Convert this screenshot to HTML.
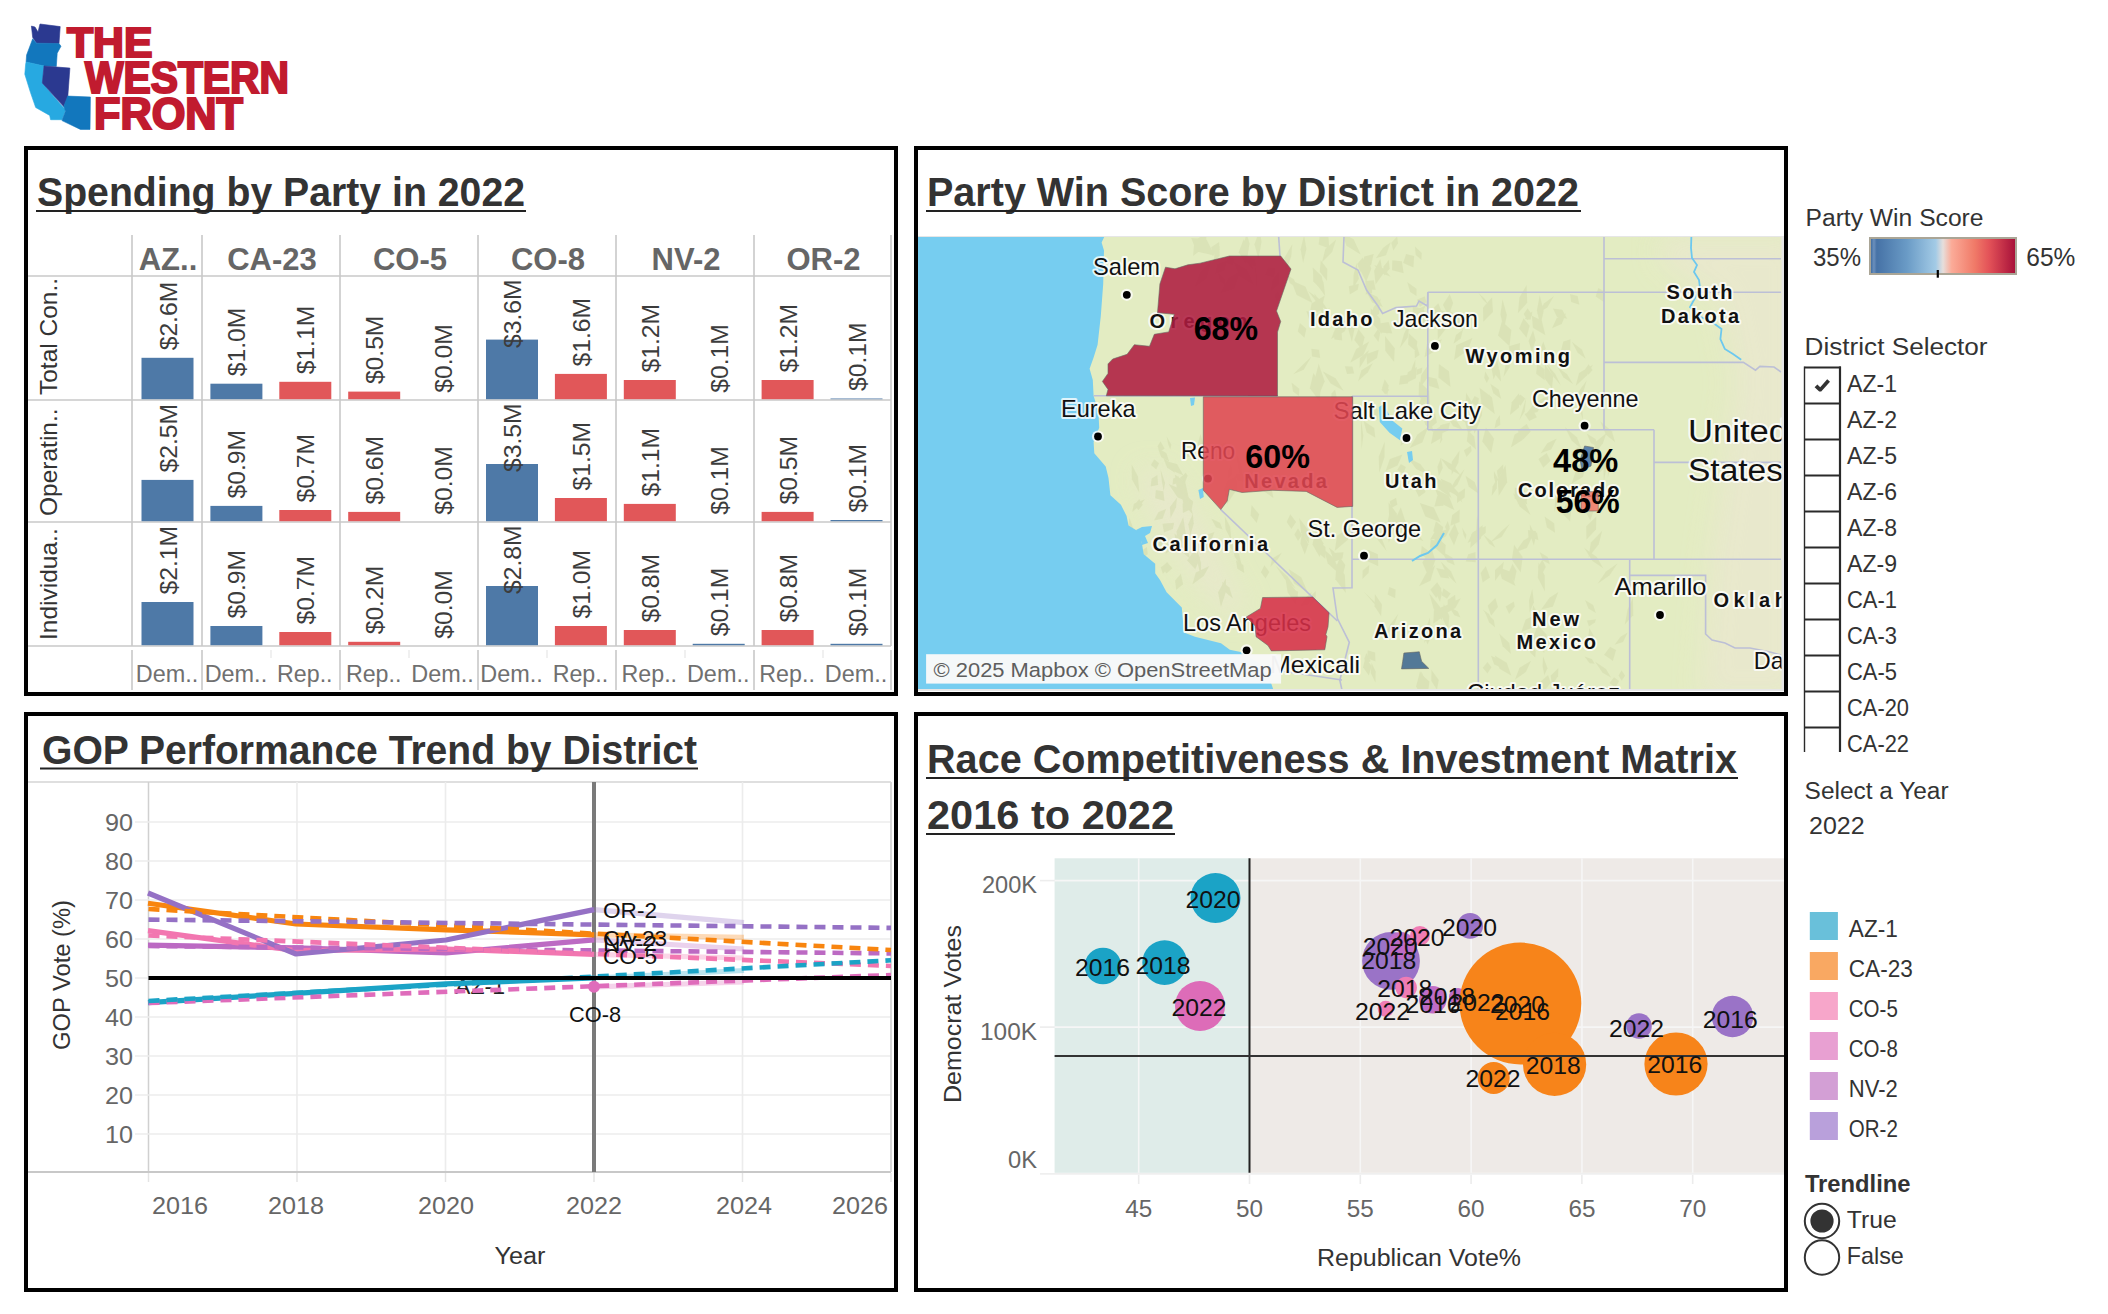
<!DOCTYPE html>
<html><head><meta charset="utf-8"><title>The Western Front Dashboard</title>
<style>
html,body{margin:0;padding:0;background:#fff;}
body{width:2108px;height:1314px;overflow:hidden;position:relative;font-family:"Liberation Sans", sans-serif;}
svg{position:absolute;left:0;top:0;}
text{font-family:"Liberation Sans", sans-serif;}
</style></head><body>
<svg width="2108" height="1314" viewBox="0 0 2108 1314">
<rect x="0" y="0" width="2108" height="1314" fill="#fff"/>
<polygon points="31.4,26.1 35.0,27.0 38.0,32.0 40.0,24.0 60.2,26.6 59.0,43.6 36.6,43.2 32.7,37.5" fill="#2b3990" stroke="#2b3990" stroke-width="0.6"/>
<polygon points="32.7,38.8 36.6,43.2 59.0,43.6 61.0,46.2 57.2,53.2 56.3,66.4 44.0,66.0 26.1,62.0 26.6,55.0" fill="#1277bd" stroke="#1277bd" stroke-width="0.6"/>
<polygon points="26.1,62.0 44.0,66.0 42.3,83.0 65.5,110.0 62.0,119.7 50.6,119.7 49.7,115.4 35.7,107.5 30.5,92.6 24.8,74.2 25.7,63.7" fill="#27a9e1" stroke="#27a9e1" stroke-width="0.6"/>
<polygon points="44.0,66.0 69.9,68.1 67.7,97.9 63.7,106.6 42.3,83.0" fill="#2b3990" stroke="#2b3990" stroke-width="0.6"/>
<polygon points="67.7,96.1 90.4,97.0 90.0,129.4 80.4,129.4 62.0,120.6 65.5,111.0 63.7,106.6" fill="#1277bd" stroke="#1277bd" stroke-width="0.6"/>
<text x="67.0" y="57.0" font-size="42" fill="#c11b2f" font-weight="bold" textLength="85.5" lengthAdjust="spacingAndGlyphs" stroke="#c11b2f" stroke-width="2.2" stroke-linejoin="miter">THE</text>
<text x="85.0" y="93.0" font-size="44" fill="#c11b2f" font-weight="bold" textLength="204.0" lengthAdjust="spacingAndGlyphs" stroke="#c11b2f" stroke-width="2.2" stroke-linejoin="miter">WESTERN</text>
<text x="94.0" y="128.6" font-size="44" fill="#c11b2f" font-weight="bold" textLength="149.0" lengthAdjust="spacingAndGlyphs" stroke="#c11b2f" stroke-width="2.2" stroke-linejoin="miter">FRONT</text>
<text x="37.0" y="206.0" font-size="41" fill="#333" font-weight="bold" textLength="488.0" lengthAdjust="spacingAndGlyphs">Spending by Party in 2022</text>
<rect x="36.0" y="210.0" width="490.0" height="2.0" fill="#222" />
<line x1="132" y1="235" x2="132" y2="646" stroke="#c8c8c8" stroke-width="1.6" />
<line x1="202" y1="235" x2="202" y2="646" stroke="#c8c8c8" stroke-width="1.6" />
<line x1="340" y1="235" x2="340" y2="646" stroke="#c8c8c8" stroke-width="1.6" />
<line x1="478" y1="235" x2="478" y2="646" stroke="#c8c8c8" stroke-width="1.6" />
<line x1="616" y1="235" x2="616" y2="646" stroke="#c8c8c8" stroke-width="1.6" />
<line x1="754" y1="235" x2="754" y2="646" stroke="#c8c8c8" stroke-width="1.6" />
<line x1="891" y1="235" x2="891" y2="646" stroke="#c8c8c8" stroke-width="1.6" />
<line x1="132" y1="650" x2="132" y2="690" stroke="#c8c8c8" stroke-width="1.6" />
<line x1="202" y1="650" x2="202" y2="690" stroke="#c8c8c8" stroke-width="1.6" />
<line x1="340" y1="650" x2="340" y2="690" stroke="#c8c8c8" stroke-width="1.6" />
<line x1="478" y1="650" x2="478" y2="690" stroke="#c8c8c8" stroke-width="1.6" />
<line x1="616" y1="650" x2="616" y2="690" stroke="#c8c8c8" stroke-width="1.6" />
<line x1="754" y1="650" x2="754" y2="690" stroke="#c8c8c8" stroke-width="1.6" />
<line x1="891" y1="650" x2="891" y2="690" stroke="#c8c8c8" stroke-width="1.6" />
<line x1="271" y1="650" x2="271" y2="658" stroke="#e6e6e6" stroke-width="1.2" />
<line x1="409" y1="650" x2="409" y2="658" stroke="#e6e6e6" stroke-width="1.2" />
<line x1="547" y1="650" x2="547" y2="658" stroke="#e6e6e6" stroke-width="1.2" />
<line x1="685" y1="650" x2="685" y2="658" stroke="#e6e6e6" stroke-width="1.2" />
<line x1="823" y1="650" x2="823" y2="658" stroke="#e6e6e6" stroke-width="1.2" />
<line x1="28" y1="276" x2="891" y2="276" stroke="#c8c8c8" stroke-width="1.6" />
<line x1="28" y1="400" x2="891" y2="400" stroke="#c8c8c8" stroke-width="1.6" />
<line x1="28" y1="522" x2="891" y2="522" stroke="#c8c8c8" stroke-width="1.6" />
<line x1="28" y1="646" x2="891" y2="646" stroke="#c8c8c8" stroke-width="1.6" />
<text x="168.0" y="270.0" font-size="31" fill="#666" font-weight="bold" text-anchor="middle">AZ..</text>
<text x="272.0" y="270.0" font-size="31" fill="#666" font-weight="bold" text-anchor="middle">CA-23</text>
<text x="410.0" y="270.0" font-size="31" fill="#666" font-weight="bold" text-anchor="middle">CO-5</text>
<text x="548.0" y="270.0" font-size="31" fill="#666" font-weight="bold" text-anchor="middle">CO-8</text>
<text x="686.0" y="270.0" font-size="31" fill="#666" font-weight="bold" text-anchor="middle">NV-2</text>
<text x="823.5" y="270.0" font-size="31" fill="#666" font-weight="bold" text-anchor="middle">OR-2</text>
<text transform="translate(56.5,395.0) rotate(-90)" x="0" y="0" font-size="24.5" fill="#333" textLength="117.0" lengthAdjust="spacingAndGlyphs">Total Con..</text>
<text transform="translate(56.5,516.0) rotate(-90)" x="0" y="0" font-size="24.5" fill="#333">Operatin..</text>
<text transform="translate(56.5,640.0) rotate(-90)" x="0" y="0" font-size="24.5" fill="#333">Individua..</text>
<rect x="141.5" y="357.8" width="52.0" height="41.4" fill="#4e79a7" />
<text transform="translate(176.5,350.3) rotate(-90)" x="0" y="0" font-size="24" fill="#3c3c3c" textLength="68.5" lengthAdjust="spacingAndGlyphs">$2.6M</text>
<rect x="210.4" y="383.7" width="52.0" height="15.5" fill="#4e79a7" />
<text transform="translate(245.4,376.2) rotate(-90)" x="0" y="0" font-size="24" fill="#3c3c3c" textLength="68.5" lengthAdjust="spacingAndGlyphs">$1.0M</text>
<rect x="279.3" y="381.8" width="52.0" height="17.4" fill="#e15759" />
<text transform="translate(314.3,374.3) rotate(-90)" x="0" y="0" font-size="24" fill="#3c3c3c" textLength="68.5" lengthAdjust="spacingAndGlyphs">$1.1M</text>
<rect x="348.2" y="391.6" width="52.0" height="7.6" fill="#e15759" />
<text transform="translate(383.2,384.1) rotate(-90)" x="0" y="0" font-size="24" fill="#3c3c3c" textLength="68.5" lengthAdjust="spacingAndGlyphs">$0.5M</text>
<text transform="translate(452.1,392.7) rotate(-90)" x="0" y="0" font-size="24" fill="#3c3c3c" textLength="68.5" lengthAdjust="spacingAndGlyphs">$0.0M</text>
<rect x="486.0" y="339.6" width="52.0" height="59.6" fill="#4e79a7" />
<text transform="translate(521.0,348.0) rotate(-90)" x="0" y="0" font-size="24" fill="#3c3c3c" textLength="68.5" lengthAdjust="spacingAndGlyphs">$3.6M</text>
<rect x="554.9" y="373.9" width="52.0" height="25.3" fill="#e15759" />
<text transform="translate(589.9,366.4) rotate(-90)" x="0" y="0" font-size="24" fill="#3c3c3c" textLength="68.5" lengthAdjust="spacingAndGlyphs">$1.6M</text>
<rect x="623.8" y="380.0" width="52.0" height="19.2" fill="#e15759" />
<text transform="translate(658.8,372.5) rotate(-90)" x="0" y="0" font-size="24" fill="#3c3c3c" textLength="68.5" lengthAdjust="spacingAndGlyphs">$1.2M</text>
<text transform="translate(727.7,392.7) rotate(-90)" x="0" y="0" font-size="24" fill="#3c3c3c" textLength="68.5" lengthAdjust="spacingAndGlyphs">$0.1M</text>
<rect x="761.6" y="380.0" width="52.0" height="19.2" fill="#e15759" />
<text transform="translate(796.6,372.5) rotate(-90)" x="0" y="0" font-size="24" fill="#3c3c3c" textLength="68.5" lengthAdjust="spacingAndGlyphs">$1.2M</text>
<rect x="830.5" y="398.5" width="52.0" height="0.7" fill="#4e79a7" />
<text transform="translate(865.5,391.0) rotate(-90)" x="0" y="0" font-size="24" fill="#3c3c3c" textLength="68.5" lengthAdjust="spacingAndGlyphs">$0.1M</text>
<rect x="141.5" y="479.9" width="52.0" height="41.3" fill="#4e79a7" />
<text transform="translate(176.5,472.4) rotate(-90)" x="0" y="0" font-size="24" fill="#3c3c3c" textLength="68.5" lengthAdjust="spacingAndGlyphs">$2.5M</text>
<rect x="210.4" y="505.9" width="52.0" height="15.3" fill="#4e79a7" />
<text transform="translate(245.4,498.4) rotate(-90)" x="0" y="0" font-size="24" fill="#3c3c3c" textLength="68.5" lengthAdjust="spacingAndGlyphs">$0.9M</text>
<rect x="279.3" y="510.0" width="52.0" height="11.2" fill="#e15759" />
<text transform="translate(314.3,502.5) rotate(-90)" x="0" y="0" font-size="24" fill="#3c3c3c" textLength="68.5" lengthAdjust="spacingAndGlyphs">$0.7M</text>
<rect x="348.2" y="511.9" width="52.0" height="9.3" fill="#e15759" />
<text transform="translate(383.2,504.4) rotate(-90)" x="0" y="0" font-size="24" fill="#3c3c3c" textLength="68.5" lengthAdjust="spacingAndGlyphs">$0.6M</text>
<text transform="translate(452.1,514.7) rotate(-90)" x="0" y="0" font-size="24" fill="#3c3c3c" textLength="68.5" lengthAdjust="spacingAndGlyphs">$0.0M</text>
<rect x="486.0" y="464.0" width="52.0" height="57.2" fill="#4e79a7" />
<text transform="translate(521.0,472.0) rotate(-90)" x="0" y="0" font-size="24" fill="#3c3c3c" textLength="68.5" lengthAdjust="spacingAndGlyphs">$3.5M</text>
<rect x="554.9" y="498.0" width="52.0" height="23.2" fill="#e15759" />
<text transform="translate(589.9,490.5) rotate(-90)" x="0" y="0" font-size="24" fill="#3c3c3c" textLength="68.5" lengthAdjust="spacingAndGlyphs">$1.5M</text>
<rect x="623.8" y="503.9" width="52.0" height="17.3" fill="#e15759" />
<text transform="translate(658.8,496.4) rotate(-90)" x="0" y="0" font-size="24" fill="#3c3c3c" textLength="68.5" lengthAdjust="spacingAndGlyphs">$1.1M</text>
<text transform="translate(727.7,514.7) rotate(-90)" x="0" y="0" font-size="24" fill="#3c3c3c" textLength="68.5" lengthAdjust="spacingAndGlyphs">$0.1M</text>
<rect x="761.6" y="511.9" width="52.0" height="9.3" fill="#e15759" />
<text transform="translate(796.6,504.4) rotate(-90)" x="0" y="0" font-size="24" fill="#3c3c3c" textLength="68.5" lengthAdjust="spacingAndGlyphs">$0.5M</text>
<rect x="830.5" y="520.0" width="52.0" height="1.2" fill="#4e79a7" />
<text transform="translate(865.5,512.5) rotate(-90)" x="0" y="0" font-size="24" fill="#3c3c3c" textLength="68.5" lengthAdjust="spacingAndGlyphs">$0.1M</text>
<rect x="141.5" y="602.0" width="52.0" height="43.2" fill="#4e79a7" />
<text transform="translate(176.5,594.5) rotate(-90)" x="0" y="0" font-size="24" fill="#3c3c3c" textLength="68.5" lengthAdjust="spacingAndGlyphs">$2.1M</text>
<rect x="210.4" y="626.0" width="52.0" height="19.2" fill="#4e79a7" />
<text transform="translate(245.4,618.5) rotate(-90)" x="0" y="0" font-size="24" fill="#3c3c3c" textLength="68.5" lengthAdjust="spacingAndGlyphs">$0.9M</text>
<rect x="279.3" y="632.0" width="52.0" height="13.2" fill="#e15759" />
<text transform="translate(314.3,624.5) rotate(-90)" x="0" y="0" font-size="24" fill="#3c3c3c" textLength="68.5" lengthAdjust="spacingAndGlyphs">$0.7M</text>
<rect x="348.2" y="641.8" width="52.0" height="3.4" fill="#e15759" />
<text transform="translate(383.2,634.3) rotate(-90)" x="0" y="0" font-size="24" fill="#3c3c3c" textLength="68.5" lengthAdjust="spacingAndGlyphs">$0.2M</text>
<text transform="translate(452.1,638.7) rotate(-90)" x="0" y="0" font-size="24" fill="#3c3c3c" textLength="68.5" lengthAdjust="spacingAndGlyphs">$0.0M</text>
<rect x="486.0" y="586.0" width="52.0" height="59.2" fill="#4e79a7" />
<text transform="translate(521.0,594.0) rotate(-90)" x="0" y="0" font-size="24" fill="#3c3c3c" textLength="68.5" lengthAdjust="spacingAndGlyphs">$2.8M</text>
<rect x="554.9" y="626.0" width="52.0" height="19.2" fill="#e15759" />
<text transform="translate(589.9,618.5) rotate(-90)" x="0" y="0" font-size="24" fill="#3c3c3c" textLength="68.5" lengthAdjust="spacingAndGlyphs">$1.0M</text>
<rect x="623.8" y="630.0" width="52.0" height="15.2" fill="#e15759" />
<text transform="translate(658.8,622.5) rotate(-90)" x="0" y="0" font-size="24" fill="#3c3c3c" textLength="68.5" lengthAdjust="spacingAndGlyphs">$0.8M</text>
<rect x="692.7" y="643.8" width="52.0" height="1.4" fill="#4e79a7" />
<text transform="translate(727.7,636.3) rotate(-90)" x="0" y="0" font-size="24" fill="#3c3c3c" textLength="68.5" lengthAdjust="spacingAndGlyphs">$0.1M</text>
<rect x="761.6" y="630.0" width="52.0" height="15.2" fill="#e15759" />
<text transform="translate(796.6,622.5) rotate(-90)" x="0" y="0" font-size="24" fill="#3c3c3c" textLength="68.5" lengthAdjust="spacingAndGlyphs">$0.8M</text>
<rect x="830.5" y="643.8" width="52.0" height="1.4" fill="#4e79a7" />
<text transform="translate(865.5,636.3) rotate(-90)" x="0" y="0" font-size="24" fill="#3c3c3c" textLength="68.5" lengthAdjust="spacingAndGlyphs">$0.1M</text>
<text x="167.0" y="682.0" font-size="23" fill="#707070" text-anchor="middle" textLength="62.5" lengthAdjust="spacingAndGlyphs">Dem..</text>
<text x="235.9" y="682.0" font-size="23" fill="#707070" text-anchor="middle" textLength="62.5" lengthAdjust="spacingAndGlyphs">Dem..</text>
<text x="304.8" y="682.0" font-size="23" fill="#707070" text-anchor="middle" textLength="55.5" lengthAdjust="spacingAndGlyphs">Rep..</text>
<text x="373.7" y="682.0" font-size="23" fill="#707070" text-anchor="middle" textLength="55.5" lengthAdjust="spacingAndGlyphs">Rep..</text>
<text x="442.6" y="682.0" font-size="23" fill="#707070" text-anchor="middle" textLength="62.5" lengthAdjust="spacingAndGlyphs">Dem..</text>
<text x="511.5" y="682.0" font-size="23" fill="#707070" text-anchor="middle" textLength="62.5" lengthAdjust="spacingAndGlyphs">Dem..</text>
<text x="580.4" y="682.0" font-size="23" fill="#707070" text-anchor="middle" textLength="55.5" lengthAdjust="spacingAndGlyphs">Rep..</text>
<text x="649.3" y="682.0" font-size="23" fill="#707070" text-anchor="middle" textLength="55.5" lengthAdjust="spacingAndGlyphs">Rep..</text>
<text x="718.2" y="682.0" font-size="23" fill="#707070" text-anchor="middle" textLength="62.5" lengthAdjust="spacingAndGlyphs">Dem..</text>
<text x="787.1" y="682.0" font-size="23" fill="#707070" text-anchor="middle" textLength="55.5" lengthAdjust="spacingAndGlyphs">Rep..</text>
<text x="856.0" y="682.0" font-size="23" fill="#707070" text-anchor="middle" textLength="62.5" lengthAdjust="spacingAndGlyphs">Dem..</text>
<text x="927.0" y="206.0" font-size="41" fill="#333" font-weight="bold" textLength="652.0" lengthAdjust="spacingAndGlyphs">Party Win Score by District in 2022</text>
<rect x="926.0" y="210.0" width="655.0" height="2.0" fill="#222" />
<defs><clipPath id="mapclip"><rect x="918" y="237" width="863.5" height="452"/></clipPath></defs>
<rect x="918.0" y="236.0" width="866.0" height="455.0" fill="#e6e6e6" />
<g clip-path="url(#mapclip)">
<rect x="918.0" y="237.0" width="863.5" height="452.0" fill="#e3ecc2" />
<defs><filter id="blur15" x="-50%" y="-50%" width="200%" height="200%"><feGaussianBlur stdDeviation="14"/></filter></defs>
<polygon points="1660.0,237.0 1800.0,237.0 1800.0,700.0 1700.0,700.0 1710.0,560.0 1735.0,380.0 1720.0,300.0 1660.0,262.0" fill="#e9e8ce" opacity="0.9" filter="url(#blur15)"/>
<polygon points="1135.0,470.0 1165.0,470.0 1200.0,520.0 1235.0,590.0 1250.0,610.0 1225.0,615.0 1190.0,570.0 1160.0,530.0" fill="#e9e7cf" opacity="0.8" filter="url(#blur15)"/>
<g fill="#d2daac" opacity="0.5">
<polygon points="1350.2,311.6 1347.7,327.0 1351.9,341.9 1354.9,327.1"/>
<polygon points="1306.4,311.0 1310.2,323.1 1323.5,327.6 1318.5,314.5"/>
<polygon points="1311.3,356.7 1303.5,363.9 1293.2,374.3 1303.8,369.8"/>
<polygon points="1378.1,328.7 1373.6,335.5 1378.4,342.1 1380.3,332.7"/>
<polygon points="1314.7,272.3 1313.9,278.2 1316.6,282.7 1319.5,278.9"/>
<polygon points="1358.5,328.9 1354.2,339.9 1361.6,349.6 1364.7,337.2"/>
<polygon points="1419.1,381.2 1418.6,396.2 1430.3,407.4 1429.1,390.8"/>
<polygon points="1336.1,239.5 1325.3,249.0 1322.0,262.3 1332.1,252.1"/>
<polygon points="1422.4,367.4 1416.9,369.6 1416.2,375.3 1421.6,372.9"/>
<polygon points="1424.8,296.3 1416.9,299.7 1419.9,306.9 1426.5,302.1"/>
<polygon points="1291.0,280.2 1296.6,295.0 1312.5,302.9 1305.4,286.6"/>
<polygon points="1304.1,235.5 1300.6,249.2 1303.1,263.0 1306.4,249.1"/>
<polygon points="1311.3,348.8 1312.0,356.6 1320.2,358.1 1319.1,349.8"/>
<polygon points="1312.3,267.5 1316.3,284.0 1325.2,296.1 1323.5,282.0"/>
<polygon points="1308.2,291.0 1318.2,304.4 1328.7,311.2 1321.7,300.8"/>
<polygon points="1313.1,267.8 1313.2,281.4 1324.5,292.3 1321.8,276.1"/>
<polygon points="1299.9,323.0 1297.7,331.6 1304.4,337.7 1306.4,328.7"/>
<polygon points="1412.7,305.9 1413.0,318.2 1426.3,324.0 1423.9,309.6"/>
<polygon points="1415.4,359.5 1412.7,365.8 1409.9,374.0 1415.2,370.4"/>
<polygon points="1313.4,372.9 1309.8,388.2 1319.6,401.6 1320.9,384.0"/>
<polygon points="1291.5,382.6 1293.0,391.6 1298.9,395.9 1299.4,388.8"/>
<polygon points="1365.3,280.9 1365.7,289.1 1375.7,290.1 1373.8,280.2"/>
<polygon points="1372.9,363.0 1361.3,370.2 1358.1,381.3 1367.9,372.3"/>
<polygon points="1286.2,273.9 1289.7,283.1 1298.3,289.6 1294.0,279.6"/>
<polygon points="1373.7,254.1 1364.3,256.4 1360.8,266.7 1371.1,265.3"/>
<polygon points="1378.0,326.7 1384.5,332.3 1388.6,334.5 1384.6,331.3"/>
<polygon points="1384.1,384.0 1381.5,389.7 1385.2,394.4 1389.2,390.1"/>
<polygon points="1335.1,389.4 1331.5,393.4 1331.0,400.4 1337.0,398.8"/>
<polygon points="1385.0,336.1 1385.3,350.9 1394.1,362.0 1394.8,348.3"/>
<polygon points="1416.9,367.0 1407.7,372.2 1406.3,383.0 1415.9,378.3"/>
<polygon points="1366.0,291.5 1372.2,302.5 1382.8,307.0 1377.4,296.8"/>
<polygon points="1428.6,364.2 1421.2,375.1 1419.6,388.6 1427.4,378.1"/>
<polygon points="1344.8,366.3 1347.0,373.9 1354.2,373.5 1352.5,366.6"/>
<polygon points="1356.6,263.1 1353.5,275.1 1353.2,288.3 1358.9,278.7"/>
<polygon points="1319.8,234.9 1318.7,244.4 1329.3,248.6 1328.4,237.1"/>
<polygon points="1408.6,333.1 1408.1,344.4 1416.0,351.4 1417.4,341.2"/>
<polygon points="1324.8,295.5 1311.5,303.5 1308.8,318.1 1321.4,309.4"/>
<polygon points="1372.0,283.5 1367.4,287.0 1365.4,294.6 1372.1,293.2"/>
<polygon points="1384.7,379.3 1382.0,387.7 1387.3,395.2 1388.7,385.5"/>
<polygon points="1314.2,293.2 1317.3,305.7 1323.6,315.1 1322.6,304.6"/>
<polygon points="1425.9,305.3 1418.1,308.9 1419.3,314.9 1424.3,308.6"/>
<polygon points="1378.9,323.5 1380.4,332.6 1392.4,333.4 1388.7,322.1"/>
<polygon points="1342.1,233.2 1346.5,245.8 1360.7,254.5 1353.6,239.2"/>
<polygon points="1380.5,298.6 1373.6,307.1 1369.4,319.8 1379.0,314.1"/>
<polygon points="1374.1,265.0 1380.7,273.1 1390.7,276.8 1384.0,268.5"/>
<polygon points="1388.7,260.1 1383.3,266.8 1384.2,275.4 1389.7,268.8"/>
<polygon points="1378.7,349.8 1366.4,354.0 1367.2,364.6 1377.0,357.9"/>
<polygon points="1416.9,345.6 1414.6,351.4 1414.9,358.3 1419.7,355.0"/>
<polygon points="1350.6,317.2 1336.8,324.7 1331.1,339.1 1344.7,331.4"/>
<polygon points="1380.3,259.0 1374.1,270.8 1375.6,284.5 1383.1,274.0"/>
<polygon points="1318.7,363.7 1314.6,379.5 1318.9,395.3 1324.7,381.2"/>
<polygon points="1322.7,371.2 1330.6,383.5 1343.8,390.9 1335.6,378.2"/>
<polygon points="1369.1,349.9 1359.8,358.1 1359.5,368.2 1366.2,357.4"/>
<polygon points="1392.3,260.3 1392.0,270.2 1403.7,273.3 1401.9,261.3"/>
<polygon points="1369.2,341.6 1356.1,349.0 1350.2,362.7 1363.3,355.3"/>
<polygon points="1414.9,246.6 1415.8,255.1 1421.4,260.0 1421.8,252.9"/>
<polygon points="1370.6,307.9 1371.6,322.7 1381.9,334.1 1380.1,318.6"/>
<polygon points="1409.2,374.4 1400.4,375.8 1399.0,384.8 1408.0,383.5"/>
<polygon points="1368.6,260.3 1360.5,270.7 1366.1,282.0 1371.3,268.8"/>
<polygon points="1421.3,310.6 1415.6,319.8 1420.5,329.4 1426.1,320.1"/>
<polygon points="1390.7,242.2 1383.2,247.7 1375.8,258.2 1386.0,255.3"/>
<polygon points="1329.4,307.7 1325.5,311.6 1323.3,319.0 1329.6,317.5"/>
<polygon points="1358.9,283.7 1348.7,286.3 1349.8,294.6 1357.8,289.8"/>
<polygon points="1397.1,236.6 1391.3,242.8 1393.3,250.4 1398.0,243.2"/>
<polygon points="1333.8,331.6 1334.4,339.4 1342.2,340.6 1341.6,332.8"/>
<polygon points="1320.7,260.3 1319.7,271.7 1327.0,281.0 1327.4,269.0"/>
<polygon points="1362.7,257.6 1357.2,264.0 1360.2,271.9 1365.9,265.7"/>
<polygon points="1410.0,321.3 1404.0,333.8 1399.8,348.3 1407.7,337.7"/>
<polygon points="1407.2,281.9 1410.1,292.1 1416.5,296.0 1416.6,288.8"/>
<polygon points="1406.1,254.1 1403.1,263.1 1413.5,267.4 1414.1,256.0"/>
<polygon points="1576.5,393.5 1578.5,407.3 1583.1,420.0 1582.2,407.2"/>
<polygon points="1441.9,339.3 1426.8,344.3 1424.5,357.2 1437.2,349.9"/>
<polygon points="1514.8,487.4 1514.6,498.7 1527.2,504.4 1524.9,490.5"/>
<polygon points="1449.7,293.9 1442.9,304.7 1448.5,316.0 1453.2,303.0"/>
<polygon points="1472.4,338.1 1456.2,345.2 1454.1,360.0 1467.8,350.4"/>
<polygon points="1437.4,537.8 1436.3,549.0 1444.9,556.5 1445.8,545.1"/>
<polygon points="1526.1,397.8 1522.9,408.4 1519.4,420.1 1524.7,411.6"/>
<polygon points="1455.0,404.6 1457.7,417.4 1470.3,426.0 1465.6,411.2"/>
<polygon points="1526.6,284.9 1519.4,297.6 1517.9,313.3 1527.2,302.8"/>
<polygon points="1551.6,394.1 1542.3,399.3 1535.0,410.3 1546.1,406.9"/>
<polygon points="1482.8,524.9 1471.4,534.1 1470.2,548.1 1481.0,538.4"/>
<polygon points="1596.4,516.5 1586.2,526.2 1586.4,539.8 1596.0,529.6"/>
<polygon points="1552.9,308.6 1557.0,316.9 1567.2,318.8 1562.3,309.7"/>
<polygon points="1546.7,453.0 1538.4,459.1 1543.3,467.7 1550.6,460.7"/>
<polygon points="1556.8,438.6 1547.2,443.3 1540.7,453.3 1551.2,449.4"/>
<polygon points="1558.4,481.2 1555.6,496.6 1554.1,512.5 1558.3,498.6"/>
<polygon points="1474.6,396.1 1471.1,402.2 1477.8,406.7 1478.9,398.2"/>
<polygon points="1482.9,527.1 1472.7,532.2 1467.5,542.9 1478.1,538.2"/>
<polygon points="1610.6,450.2 1608.4,463.8 1607.7,477.9 1611.4,465.9"/>
<polygon points="1433.9,536.2 1435.0,543.9 1442.3,546.8 1441.2,539.1"/>
<polygon points="1539.7,295.1 1536.9,310.6 1540.4,325.9 1543.7,311.0"/>
<polygon points="1490.4,359.8 1493.3,372.6 1501.2,381.7 1499.6,370.1"/>
<polygon points="1478.4,292.8 1483.1,300.1 1488.2,304.7 1485.0,298.9"/>
<polygon points="1509.8,523.7 1501.3,531.3 1490.6,542.0 1501.7,537.1"/>
<polygon points="1450.1,528.1 1438.9,532.2 1436.4,541.9 1446.0,536.2"/>
<polygon points="1533.4,534.3 1523.4,540.6 1515.0,552.5 1526.9,548.0"/>
<polygon points="1531.9,315.7 1532.8,327.7 1545.4,335.3 1541.8,320.6"/>
<polygon points="1523.6,318.2 1519.0,328.6 1526.5,337.7 1529.7,325.8"/>
<polygon points="1544.8,397.0 1534.7,403.1 1524.8,415.4 1537.6,411.9"/>
<polygon points="1564.8,352.5 1557.9,355.8 1559.5,363.8 1567.2,361.3"/>
<polygon points="1495.8,354.5 1491.2,366.5 1493.5,379.4 1498.9,368.1"/>
<polygon points="1570.5,339.3 1563.3,341.6 1560.8,351.3 1570.2,351.3"/>
<polygon points="1438.3,303.2 1431.1,310.6 1435.9,319.0 1440.8,309.3"/>
<polygon points="1527.6,308.3 1523.6,314.1 1527.4,320.2 1532.2,315.1"/>
<polygon points="1499.8,415.0 1496.1,420.6 1494.5,428.6 1500.3,425.1"/>
<polygon points="1449.0,314.0 1437.5,324.9 1437.8,339.5 1447.5,326.8"/>
<polygon points="1509.2,349.8 1505.9,362.7 1503.5,377.0 1509.8,367.0"/>
<polygon points="1485.9,427.4 1482.2,441.5 1491.2,453.3 1494.1,438.5"/>
<polygon points="1447.7,521.1 1445.0,526.8 1447.2,532.8 1449.8,526.9"/>
<polygon points="1545.9,362.9 1552.4,375.5 1560.9,385.5 1555.3,373.9"/>
<polygon points="1438.9,363.9 1438.3,377.6 1450.5,387.1 1449.0,371.2"/>
<polygon points="1497.1,478.8 1492.5,486.6 1491.7,496.0 1496.8,488.5"/>
<polygon points="1602.2,530.7 1590.8,542.4 1588.5,557.5 1598.7,544.6"/>
<polygon points="1479.5,387.7 1481.5,403.7 1494.8,414.1 1492.0,397.3"/>
<polygon points="1490.4,383.7 1493.3,393.3 1501.2,398.9 1498.7,389.6"/>
<polygon points="1564.8,427.0 1571.7,440.8 1582.1,449.5 1576.9,437.2"/>
<polygon points="1588.6,364.3 1584.9,369.6 1588.5,374.8 1592.6,370.0"/>
<polygon points="1604.1,453.7 1603.4,467.5 1603.8,481.4 1606.2,469.3"/>
<polygon points="1435.6,307.7 1442.1,320.7 1454.7,325.6 1449.0,313.4"/>
<polygon points="1449.3,482.4 1455.0,494.3 1462.5,502.8 1458.4,492.6"/>
<polygon points="1530.4,491.0 1522.5,495.3 1517.4,504.3 1526.3,501.0"/>
<polygon points="1527.0,427.3 1514.6,434.4 1510.8,447.5 1522.6,439.9"/>
<polygon points="1586.0,459.3 1576.5,469.0 1571.4,484.1 1583.2,476.7"/>
<polygon points="1607.3,455.1 1597.6,462.5 1597.5,474.3 1606.7,466.4"/>
<polygon points="1501.9,321.2 1498.0,335.5 1509.5,346.3 1511.4,330.0"/>
<polygon points="1460.5,402.3 1461.8,412.1 1473.0,412.9 1470.6,402.0"/>
<polygon points="1440.4,457.9 1448.6,468.8 1460.9,475.6 1452.4,464.4"/>
<polygon points="1531.9,531.6 1531.5,537.4 1538.4,540.3 1537.1,532.8"/>
<polygon points="1465.5,475.8 1468.7,486.8 1479.2,494.3 1474.7,482.0"/>
<polygon points="1465.1,488.3 1457.2,493.7 1457.0,503.1 1464.7,497.6"/>
<polygon points="1477.1,515.1 1476.3,530.1 1476.7,545.2 1480.3,533.0"/>
<polygon points="1519.4,348.6 1511.0,350.9 1514.3,358.5 1522.0,355.5"/>
<polygon points="1526.7,423.9 1517.6,430.4 1523.3,439.5 1530.8,431.4"/>
<polygon points="1434.8,411.6 1427.7,418.7 1429.2,428.9 1436.9,422.5"/>
<polygon points="1463.1,329.5 1455.9,334.9 1453.5,343.7 1460.8,338.4"/>
<polygon points="1539.5,552.1 1543.1,560.8 1549.8,564.2 1547.8,557.1"/>
<polygon points="1419.8,502.9 1425.3,516.6 1440.7,522.4 1433.8,507.4"/>
<polygon points="1566.0,313.2 1556.7,318.1 1552.0,328.3 1561.8,323.9"/>
<polygon points="1592.9,364.8 1579.0,373.1 1575.7,386.1 1587.2,375.3"/>
<polygon points="1571.8,341.7 1577.6,352.8 1585.7,358.7 1581.9,349.6"/>
<polygon points="1485.3,371.6 1484.1,377.8 1486.8,383.1 1489.2,378.2"/>
<polygon points="1493.9,471.0 1494.0,477.6 1495.6,483.2 1498.3,479.4"/>
<polygon points="1580.9,463.4 1574.4,467.2 1577.8,473.2 1582.7,467.8"/>
<polygon points="1533.8,411.8 1524.5,413.7 1529.2,421.0 1536.9,417.3"/>
<polygon points="1537.1,363.7 1536.1,373.7 1544.7,380.2 1544.7,369.2"/>
<polygon points="1503.2,464.3 1496.9,470.7 1497.9,479.0 1503.2,471.6"/>
<polygon points="1606.5,432.9 1594.8,442.5 1593.7,455.4 1603.0,443.3"/>
<polygon points="1447.8,310.1 1450.9,322.9 1462.9,330.0 1459.2,316.5"/>
<polygon points="1576.8,447.4 1576.1,453.9 1584.5,456.7 1582.9,448.0"/>
<polygon points="1502.5,299.2 1500.4,314.4 1504.0,329.4 1506.9,315.0"/>
<polygon points="1565.9,503.6 1561.9,513.3 1570.1,521.6 1571.3,508.9"/>
<polygon points="1505.5,465.0 1497.7,479.4 1498.7,495.9 1507.2,482.2"/>
<polygon points="1427.2,376.5 1429.3,386.0 1439.5,389.0 1436.6,378.7"/>
<polygon points="1512.8,493.1 1519.8,506.8 1530.6,514.9 1525.1,502.8"/>
<polygon points="1586.7,433.6 1590.8,442.9 1598.4,447.0 1595.6,438.9"/>
<polygon points="1600.2,421.2 1605.9,434.8 1615.1,442.3 1612.0,431.3"/>
<polygon points="1543.3,341.5 1541.1,347.2 1542.5,353.3 1545.9,348.8"/>
<polygon points="1483.2,534.6 1489.3,543.8 1495.4,547.8 1492.1,541.4"/>
<polygon points="1454.8,523.6 1448.8,534.4 1454.0,545.5 1458.6,533.3"/>
<polygon points="1584.1,547.7 1592.4,560.9 1603.2,568.2 1596.9,556.9"/>
<polygon points="1485.8,526.1 1476.3,530.6 1478.1,539.3 1485.7,533.0"/>
<polygon points="1532.5,311.5 1529.4,313.2 1524.8,318.9 1530.5,319.8"/>
<polygon points="1545.0,364.6 1544.3,377.9 1552.0,388.4 1553.3,375.7"/>
<polygon points="1570.0,293.9 1571.1,301.9 1579.4,304.8 1577.6,296.1"/>
<polygon points="1533.1,330.3 1528.5,340.9 1532.0,351.7 1535.6,340.2"/>
<polygon points="1554.0,296.0 1544.2,303.3 1537.0,314.0 1547.4,307.4"/>
<polygon points="1519.1,393.1 1511.7,402.2 1510.0,415.0 1519.0,407.4"/>
<polygon points="1514.1,544.7 1511.8,559.8 1520.7,572.4 1522.7,556.9"/>
<polygon points="1529.8,524.3 1530.3,535.7 1533.9,545.5 1535.9,536.5"/>
<polygon points="1492.1,297.3 1483.0,307.6 1483.3,321.7 1493.0,312.0"/>
<polygon points="1557.5,367.3 1563.3,377.3 1573.2,384.2 1567.0,373.9"/>
<polygon points="1520.3,394.6 1514.1,400.2 1520.6,405.7 1525.3,398.5"/>
<polygon points="1489.8,393.9 1486.1,398.4 1480.4,405.8 1486.9,404.0"/>
<polygon points="1544.6,516.5 1546.9,527.4 1555.0,532.7 1554.2,523.3"/>
<polygon points="1527.9,529.9 1528.5,537.9 1536.2,538.9 1535.8,531.1"/>
<polygon points="1598.3,288.0 1595.6,296.4 1604.1,302.3 1604.1,291.3"/>
<polygon points="1591.9,501.8 1585.0,510.8 1590.3,520.4 1594.5,508.7"/>
<polygon points="1441.1,526.7 1435.4,530.5 1430.1,539.5 1438.6,538.6"/>
<polygon points="1520.0,343.1 1508.7,346.3 1510.1,356.3 1519.6,351.3"/>
<polygon points="1586.7,380.5 1581.6,387.3 1575.0,397.2 1583.0,393.4"/>
<polygon points="1152.8,536.7 1152.4,545.4 1163.8,545.7 1161.8,534.6"/>
<polygon points="1236.2,475.9 1224.2,488.4 1227.0,504.3 1236.8,489.6"/>
<polygon points="1222.1,581.7 1224.3,591.3 1232.8,598.4 1229.4,587.6"/>
<polygon points="1231.0,464.6 1228.4,470.8 1227.9,478.2 1232.3,473.8"/>
<polygon points="1174.3,533.4 1177.3,548.2 1190.0,558.4 1185.8,542.4"/>
<polygon points="1253.9,541.2 1259.5,550.0 1265.6,552.3 1262.9,546.3"/>
<polygon points="1192.8,513.8 1188.2,524.3 1190.5,535.3 1193.8,523.5"/>
<polygon points="1167.4,563.0 1160.7,567.3 1162.9,574.0 1168.0,568.2"/>
<polygon points="1174.2,522.8 1162.4,523.7 1164.0,532.6 1172.9,528.9"/>
<polygon points="1194.0,550.9 1187.0,560.5 1195.3,569.3 1200.3,557.8"/>
<polygon points="1211.6,535.1 1203.7,541.2 1204.0,551.3 1212.0,545.3"/>
<polygon points="1209.3,566.0 1195.8,572.5 1192.3,584.5 1203.8,576.1"/>
<polygon points="1237.1,454.9 1237.9,466.9 1241.2,477.9 1242.0,467.5"/>
<polygon points="1236.0,560.2 1237.3,568.7 1244.2,573.0 1243.4,564.9"/>
<polygon points="1200.5,434.1 1197.2,445.4 1199.2,457.2 1204.7,448.2"/>
<polygon points="1154.2,459.2 1150.9,465.0 1156.2,469.4 1159.1,463.2"/>
<polygon points="1167.1,562.0 1161.5,567.5 1166.5,573.6 1172.4,568.3"/>
<polygon points="1235.7,473.9 1237.7,480.6 1246.0,482.2 1242.9,474.4"/>
<polygon points="1211.2,518.6 1215.9,527.2 1222.7,529.5 1220.0,522.8"/>
<polygon points="1157.4,474.9 1151.6,478.4 1150.6,486.6 1158.1,484.9"/>
<polygon points="1144.9,499.3 1133.8,503.7 1132.2,512.1 1140.6,505.0"/>
<polygon points="1196.1,546.1 1197.5,562.2 1200.9,577.5 1201.1,562.9"/>
<polygon points="1131.6,464.2 1131.8,479.2 1139.3,492.8 1138.0,476.6"/>
<polygon points="1191.5,447.3 1185.3,449.9 1187.3,457.2 1194.9,456.0"/>
<polygon points="1160.6,469.6 1161.8,480.9 1163.7,491.5 1165.1,482.7"/>
<polygon points="1168.6,484.1 1177.6,497.4 1193.3,503.8 1183.7,489.9"/>
<polygon points="1225.8,442.0 1217.5,446.7 1216.1,456.7 1225.0,452.5"/>
<polygon points="1251.5,505.1 1250.6,515.5 1256.7,523.0 1259.2,514.2"/>
<polygon points="1155.8,490.1 1155.1,498.2 1164.5,501.1 1163.4,491.2"/>
<polygon points="1166.1,509.1 1158.5,512.1 1153.9,520.6 1162.6,518.7"/>
<polygon points="1253.3,463.9 1247.8,472.1 1248.3,481.6 1253.0,472.5"/>
<polygon points="1166.6,436.2 1168.0,443.8 1170.3,449.7 1171.4,444.7"/>
<polygon points="1236.0,476.2 1227.3,481.3 1224.2,489.8 1232.1,483.9"/>
<polygon points="1231.5,541.9 1234.6,556.5 1242.9,569.6 1239.1,554.3"/>
<polygon points="1141.3,572.6 1133.9,581.4 1142.0,589.8 1146.7,578.3"/>
<polygon points="1185.7,472.7 1179.8,477.9 1184.6,483.5 1187.7,475.6"/>
<polygon points="1177.0,497.4 1169.9,507.1 1170.5,518.3 1176.1,507.2"/>
<polygon points="1228.6,540.7 1230.3,547.9 1234.5,552.5 1234.1,546.6"/>
<polygon points="1180.5,488.7 1183.2,503.1 1193.0,515.0 1189.4,499.7"/>
<polygon points="1160.5,441.2 1157.5,446.3 1160.0,451.8 1164.7,448.6"/>
<polygon points="1259.8,477.4 1263.0,490.8 1273.4,498.0 1271.3,485.7"/>
<polygon points="1225.8,578.5 1218.0,592.3 1220.9,607.2 1226.2,590.9"/>
<polygon points="1187.8,497.5 1186.6,504.1 1192.0,508.0 1193.2,501.5"/>
<polygon points="1163.3,458.0 1167.1,467.8 1175.0,472.8 1172.2,463.9"/>
<polygon points="1157.9,448.2 1161.2,457.3 1169.2,461.6 1166.4,453.0"/>
<polygon points="1224.8,516.3 1225.4,529.1 1231.5,540.8 1230.2,527.1"/>
<polygon points="1139.3,499.1 1134.7,504.4 1138.3,510.3 1142.8,504.8"/>
<polygon points="1178.7,476.3 1173.2,478.5 1172.5,484.8 1178.3,482.9"/>
<polygon points="1167.6,539.9 1165.6,546.4 1165.7,553.9 1170.5,550.1"/>
<polygon points="1183.2,517.0 1176.5,531.4 1178.3,547.4 1185.8,533.7"/>
<polygon points="1192.2,499.9 1182.5,503.4 1182.9,513.1 1191.9,508.8"/>
<polygon points="1254.7,440.2 1252.8,447.7 1260.0,452.0 1261.0,443.6"/>
<polygon points="1268.6,457.1 1262.4,463.2 1265.0,470.9 1269.6,463.1"/>
<polygon points="1129.4,517.7 1128.1,527.3 1130.9,536.3 1133.1,527.7"/>
<polygon points="1214.5,531.9 1201.9,536.2 1198.9,547.9 1210.5,542.6"/>
<polygon points="1180.9,573.7 1175.0,580.5 1176.2,589.9 1183.2,584.3"/>
<polygon points="1264.4,565.2 1260.9,572.3 1265.5,578.6 1269.4,571.9"/>
<polygon points="1174.9,474.4 1176.7,487.9 1188.6,497.0 1185.3,482.1"/>
<polygon points="1167.4,461.5 1171.3,470.3 1183.5,475.4 1177.1,464.0"/>
<polygon points="1146.9,547.1 1140.7,551.2 1141.8,558.5 1147.8,554.2"/>
<polygon points="1372.3,525.9 1377.6,539.7 1386.7,551.3 1381.4,537.6"/>
<polygon points="1459.6,450.5 1451.7,461.8 1451.6,475.0 1458.4,462.7"/>
<polygon points="1400.8,507.2 1394.3,521.2 1399.3,535.7 1405.4,521.3"/>
<polygon points="1435.2,489.3 1440.3,503.2 1454.4,510.1 1448.7,495.4"/>
<polygon points="1440.9,430.0 1440.9,436.8 1439.7,444.0 1442.4,439.8"/>
<polygon points="1478.5,409.0 1472.2,420.8 1474.4,433.8 1480.1,421.4"/>
<polygon points="1468.2,554.2 1465.7,561.5 1475.8,562.2 1475.5,552.1"/>
<polygon points="1388.5,502.2 1389.2,517.9 1400.2,531.8 1396.6,513.2"/>
<polygon points="1429.2,469.2 1424.3,475.8 1421.0,485.4 1428.0,480.8"/>
<polygon points="1402.5,454.4 1389.8,459.1 1385.6,470.9 1397.6,465.6"/>
<polygon points="1434.9,476.4 1438.9,488.9 1451.7,498.3 1445.3,483.4"/>
<polygon points="1468.1,430.6 1466.8,441.2 1476.0,449.8 1474.3,436.4"/>
<polygon points="1421.6,412.9 1425.2,424.6 1434.2,433.0 1430.5,421.2"/>
<polygon points="1407.2,437.1 1400.9,440.2 1400.6,446.0 1405.7,441.7"/>
<polygon points="1363.5,420.7 1366.7,432.6 1375.3,437.7 1374.3,428.0"/>
<polygon points="1407.5,457.4 1416.1,469.1 1428.7,475.3 1420.4,463.9"/>
<polygon points="1443.3,493.0 1437.0,496.5 1434.4,506.4 1443.6,505.8"/>
<polygon points="1402.8,525.6 1409.6,535.5 1423.5,541.2 1414.8,529.3"/>
<polygon points="1370.7,403.7 1369.7,414.0 1377.8,420.1 1378.8,410.0"/>
<polygon points="1360.9,418.1 1361.1,433.7 1361.6,449.2 1363.3,435.4"/>
<polygon points="1459.7,509.5 1452.2,515.1 1450.4,525.8 1459.6,521.9"/>
<polygon points="1482.9,401.4 1473.4,415.1 1473.8,430.9 1481.8,415.7"/>
<polygon points="1466.1,392.8 1465.6,404.5 1472.2,414.7 1472.0,402.2"/>
<polygon points="1435.9,521.2 1433.2,531.2 1441.8,538.2 1443.1,526.9"/>
<polygon points="1470.8,445.8 1463.8,450.3 1466.5,457.1 1471.7,450.9"/>
<polygon points="1440.4,478.5 1445.1,489.3 1458.0,496.3 1451.1,483.3"/>
<polygon points="1400.8,464.0 1397.1,469.9 1403.3,473.9 1405.9,466.9"/>
<polygon points="1421.7,545.7 1420.9,554.5 1427.2,559.1 1429.6,551.8"/>
<polygon points="1367.7,549.8 1367.5,561.2 1378.3,566.2 1377.9,554.3"/>
<polygon points="1450.1,422.5 1440.2,425.3 1439.4,434.4 1448.2,430.5"/>
<polygon points="1384.7,441.5 1378.7,456.7 1379.3,472.8 1384.6,456.9"/>
<polygon points="1443.6,424.1 1433.4,431.0 1430.9,443.9 1441.9,437.7"/>
<polygon points="1422.3,484.8 1415.1,489.4 1418.9,496.9 1425.7,492.0"/>
<polygon points="1440.9,457.9 1437.4,466.8 1438.8,476.3 1442.8,467.9"/>
<polygon points="1423.0,393.3 1418.6,404.8 1420.7,417.0 1425.6,406.1"/>
<polygon points="1475.3,414.8 1465.1,422.2 1468.2,433.8 1477.4,425.3"/>
<polygon points="1442.0,551.4 1447.3,562.0 1454.8,565.2 1452.4,557.5"/>
<polygon points="1428.3,426.7 1417.4,434.4 1409.6,448.2 1422.4,442.5"/>
<polygon points="1464.7,468.7 1455.1,480.6 1446.8,495.0 1457.6,484.4"/>
<polygon points="1395.6,520.8 1384.8,526.9 1384.5,537.5 1393.5,529.6"/>
<polygon points="1396.1,497.8 1389.7,501.2 1391.0,508.2 1397.4,504.8"/>
<polygon points="1389.3,513.6 1386.4,527.9 1388.8,542.4 1394.1,530.5"/>
<polygon points="1448.5,418.7 1453.2,426.2 1462.7,429.9 1457.1,421.5"/>
<polygon points="1462.1,527.4 1463.3,534.2 1465.5,539.5 1466.4,534.8"/>
<polygon points="1430.8,539.5 1429.9,547.6 1437.3,549.1 1439.0,541.7"/>
<polygon points="1610.1,646.8 1604.0,654.8 1612.9,660.9 1616.1,650.1"/>
<polygon points="1532.3,588.8 1529.0,600.3 1529.6,612.5 1534.0,602.2"/>
<polygon points="1498.6,567.2 1501.9,579.1 1515.6,585.9 1510.0,571.6"/>
<polygon points="1627.7,632.6 1620.4,636.7 1614.6,644.8 1623.1,641.9"/>
<polygon points="1585.0,600.1 1588.5,608.8 1595.9,612.9 1593.2,604.9"/>
<polygon points="1543.1,656.3 1542.5,666.0 1544.3,675.3 1547.5,668.2"/>
<polygon points="1528.6,644.0 1530.3,652.7 1535.3,657.6 1535.8,651.1"/>
<polygon points="1531.1,660.8 1519.4,667.7 1514.9,679.7 1525.9,672.0"/>
<polygon points="1589.4,627.9 1588.0,638.0 1593.6,647.3 1593.7,635.8"/>
<polygon points="1548.1,675.1 1540.0,682.0 1544.2,691.1 1550.8,682.7"/>
<polygon points="1538.6,562.5 1537.8,577.7 1544.9,591.6 1544.7,575.5"/>
<polygon points="1594.9,661.6 1602.5,672.7 1611.3,677.8 1606.0,669.1"/>
<polygon points="1495.4,598.0 1487.6,605.8 1491.1,615.8 1498.0,607.1"/>
<polygon points="1614.0,677.3 1609.4,683.1 1615.3,687.7 1619.2,681.1"/>
<polygon points="1558.4,591.9 1549.4,597.7 1541.1,609.6 1552.9,606.7"/>
<polygon points="1632.9,597.5 1627.5,609.7 1624.8,624.5 1633.3,615.3"/>
<polygon points="1484.8,611.7 1489.0,622.2 1495.1,627.5 1493.9,620.0"/>
<polygon points="1513.8,601.6 1505.6,606.4 1509.1,613.9 1514.8,606.5"/>
<polygon points="1499.2,633.4 1502.6,646.2 1510.9,654.0 1509.4,643.1"/>
<polygon points="1584.5,656.4 1589.5,663.2 1594.7,663.8 1591.9,659.1"/>
<polygon points="1621.6,670.3 1618.5,675.6 1621.7,680.8 1625.1,675.7"/>
<polygon points="1491.0,655.7 1494.1,664.5 1502.3,667.9 1499.6,659.5"/>
<polygon points="1503.9,561.7 1495.0,570.1 1495.0,581.1 1502.3,571.2"/>
<polygon points="1542.3,559.6 1538.0,566.9 1541.8,574.4 1545.9,566.9"/>
<polygon points="1617.7,563.2 1605.9,571.6 1597.6,583.7 1609.5,575.4"/>
<polygon points="1537.7,624.8 1532.3,640.3 1544.2,653.1 1546.7,634.7"/>
<polygon points="1494.7,655.5 1499.5,668.7 1511.4,675.7 1506.8,662.7"/>
<polygon points="1485.8,566.1 1480.6,573.1 1482.7,582.4 1490.0,577.4"/>
<polygon points="1482.8,609.5 1487.2,615.8 1491.0,617.9 1489.1,614.1"/>
<polygon points="1537.5,614.0 1525.6,619.4 1521.2,632.1 1533.4,627.2"/>
<polygon points="1558.4,667.9 1550.7,675.5 1551.9,685.3 1558.1,676.3"/>
<polygon points="1533.2,605.3 1531.5,616.0 1537.2,625.4 1538.5,614.4"/>
<polygon points="1487.5,662.1 1482.7,667.7 1487.4,673.5 1491.5,667.3"/>
<polygon points="1512.5,563.7 1508.5,573.1 1514.3,581.8 1516.6,570.9"/>
<polygon points="1596.0,619.2 1586.9,620.4 1588.9,626.5 1595.0,622.4"/>
<polygon points="1422.5,675.3 1419.9,685.3 1428.0,692.5 1429.5,681.4"/>
<polygon points="1426.7,627.6 1424.5,636.2 1427.4,644.5 1431.0,637.4"/>
<polygon points="1369.3,565.0 1362.6,570.6 1362.4,578.9 1368.6,572.9"/>
<polygon points="1448.7,606.3 1454.3,615.3 1460.5,617.5 1457.8,611.4"/>
<polygon points="1455.1,594.7 1447.6,600.0 1447.8,610.0 1456.2,605.5"/>
<polygon points="1366.4,653.0 1364.3,658.4 1366.1,664.0 1370.7,661.2"/>
<polygon points="1431.4,547.6 1422.3,562.5 1429.1,578.1 1435.3,560.3"/>
<polygon points="1448.9,604.3 1433.9,610.2 1433.2,623.7 1445.7,615.1"/>
<polygon points="1443.8,603.7 1442.1,617.4 1448.1,629.9 1449.4,615.9"/>
<polygon points="1363.9,591.8 1373.3,602.8 1382.0,610.7 1374.6,601.7"/>
<polygon points="1430.8,625.0 1433.7,631.7 1435.8,636.4 1435.6,632.4"/>
<polygon points="1421.6,671.6 1420.0,679.0 1421.7,686.3 1425.3,681.0"/>
<polygon points="1371.6,662.7 1370.7,673.1 1375.5,682.7 1375.7,671.6"/>
<polygon points="1431.4,669.7 1431.3,681.0 1437.0,689.8 1438.8,680.1"/>
<polygon points="1367.7,650.2 1367.1,658.2 1375.5,661.4 1375.1,652.4"/>
<polygon points="1374.9,594.0 1374.5,606.2 1381.1,616.2 1382.0,604.5"/>
<polygon points="1460.8,598.2 1448.9,603.4 1444.5,614.2 1455.4,608.0"/>
<polygon points="1437.2,582.3 1430.3,589.8 1436.2,598.0 1441.6,589.0"/>
<polygon points="1365.3,657.4 1363.0,667.3 1368.8,675.4 1371.8,666.2"/>
<polygon points="1420.1,670.9 1416.1,686.2 1423.0,700.8 1425.4,683.9"/>
<polygon points="1436.2,568.0 1440.7,577.4 1449.4,578.4 1446.2,570.1"/>
<polygon points="1428.3,624.8 1422.2,629.4 1416.6,637.5 1424.4,634.5"/>
<polygon points="1440.8,561.4 1446.5,574.3 1456.5,583.8 1451.0,571.2"/>
<polygon points="1435.2,564.9 1426.2,573.0 1419.0,586.3 1430.5,580.7"/>
<polygon points="1429.1,593.0 1433.6,609.1 1442.5,620.9 1440.2,607.0"/>
<polygon points="1439.9,586.4 1436.4,594.2 1440.0,601.9 1442.0,592.7"/>
<polygon points="1389.3,586.9 1387.5,594.4 1395.2,598.3 1395.7,589.5"/>
<polygon points="1398.5,613.4 1390.4,624.2 1382.6,637.9 1392.7,629.3"/>
<polygon points="1429.8,617.4 1425.5,629.3 1424.2,642.9 1431.1,633.6"/>
<polygon points="1443.5,588.2 1441.5,595.3 1447.0,598.8 1450.7,593.4"/>
<polygon points="1227.0,260.4 1217.4,263.9 1215.0,273.9 1224.7,270.5"/>
<polygon points="1245.7,255.5 1249.4,265.0 1256.2,266.3 1255.1,259.5"/>
<polygon points="1259.8,229.4 1254.5,244.2 1258.4,259.2 1261.5,242.1"/>
<polygon points="1292.3,244.3 1284.2,258.1 1285.7,272.8 1291.2,256.5"/>
<polygon points="1211.2,260.9 1200.4,271.7 1194.2,287.6 1206.7,278.5"/>
<polygon points="1246.7,233.8 1243.3,244.7 1247.2,255.4 1249.6,243.7"/>
<polygon points="1243.7,239.2 1238.7,252.2 1246.1,264.5 1248.6,249.0"/>
<polygon points="1233.4,261.7 1239.5,276.3 1254.3,285.2 1247.0,269.4"/>
<polygon points="1240.5,270.8 1228.4,278.1 1219.9,293.5 1234.6,288.7"/>
<polygon points="1277.8,290.9 1274.4,295.7 1276.8,301.3 1281.2,297.6"/>
<polygon points="1254.6,261.5 1255.6,276.9 1255.7,292.0 1257.5,279.5"/>
<polygon points="1191.2,238.0 1196.6,251.4 1214.5,255.4 1206.4,239.2"/>
<polygon points="1278.8,271.4 1272.5,279.7 1270.6,291.2 1278.7,284.8"/>
<polygon points="1207.0,232.2 1194.4,241.1 1193.1,255.9 1205.2,246.5"/>
<polygon points="1227.7,256.3 1226.3,263.2 1232.7,265.3 1234.7,258.9"/>
<polygon points="1240.9,249.5 1246.4,262.1 1253.8,270.7 1250.6,260.4"/>
<polygon points="1219.1,242.0 1211.3,247.3 1212.5,256.0 1219.4,249.7"/>
<polygon points="1217.6,272.4 1220.1,281.3 1225.3,286.1 1225.0,279.5"/>
<polygon points="1219.4,246.1 1214.5,252.8 1213.9,261.8 1219.7,256.1"/>
<polygon points="1268.2,267.3 1265.1,275.0 1274.1,277.5 1275.5,268.2"/>
<polygon points="1311.7,592.1 1306.3,597.1 1300.4,606.3 1308.8,604.3"/>
<polygon points="1299.2,518.0 1301.0,532.7 1308.9,543.6 1308.8,530.8"/>
<polygon points="1302.1,531.5 1300.4,543.5 1304.8,554.4 1308.4,544.3"/>
<polygon points="1281.8,552.7 1272.1,558.5 1270.3,567.1 1277.8,559.2"/>
<polygon points="1285.0,575.7 1287.6,592.2 1295.8,604.8 1295.8,590.8"/>
<polygon points="1275.4,565.6 1284.6,579.0 1295.9,588.7 1287.7,576.4"/>
<polygon points="1336.6,563.4 1335.3,579.2 1345.8,592.9 1344.8,574.7"/>
<polygon points="1293.5,589.7 1290.2,596.0 1297.4,600.6 1298.1,591.5"/>
<polygon points="1298.0,528.3 1294.3,534.6 1298.0,541.0 1302.1,535.0"/>
<polygon points="1323.9,549.2 1327.7,563.4 1340.5,575.1 1334.1,558.3"/>
<polygon points="1288.6,569.1 1294.1,583.4 1307.8,592.6 1301.3,577.3"/>
<polygon points="1315.7,530.0 1312.4,544.4 1319.6,557.1 1323.5,543.3"/>
<polygon points="1343.5,552.2 1331.5,553.1 1333.4,562.2 1342.5,558.5"/>
<polygon points="1328.8,547.6 1331.5,553.7 1335.6,556.4 1334.3,551.8"/>
<polygon points="1290.3,514.2 1286.6,521.9 1291.4,529.0 1296.1,522.1"/>
<polygon points="1305.8,531.4 1306.4,537.1 1313.9,537.8 1311.9,530.7"/>
<polygon points="1317.4,540.2 1316.4,551.3 1325.4,558.9 1325.5,546.9"/>
<polygon points="1339.9,557.0 1336.2,567.1 1342.6,576.0 1345.4,564.9"/>
<polygon points="1352.4,526.2 1337.1,535.5 1334.7,551.1 1347.9,539.8"/>
<polygon points="1315.8,591.0 1309.0,597.9 1310.5,606.5 1315.7,598.0"/>
</g>
<polygon points="918.0,237.0 1104.7,236.0 1101.6,242.4 1104.0,250.4 1103.2,284.0 1100.8,316.0 1097.6,344.7 1093.6,357.5 1089.6,368.7 1092.8,380.0 1093.6,395.8 1098.4,411.8 1099.2,427.8 1093.6,442.0 1094.3,453.3 1105.7,466.6 1108.5,478.0 1110.4,495.2 1120.9,504.7 1126.6,516.1 1128.5,525.6 1136.0,530.0 1140.0,533.3 1141.8,542.8 1143.7,554.2 1155.2,563.7 1155.2,573.2 1160.0,580.0 1166.6,592.3 1181.8,607.5 1184.0,632.4 1195.0,636.7 1221.0,643.3 1229.8,649.8 1240.7,652.0 1262.0,665.0 1270.0,680.0 1273.5,690.0 918.0,691.0" fill="#76cdf0" />
<polygon points="1136.0,530.0 1142.0,527.0 1152.0,526.0 1150.0,533.0 1145.0,536.0 1148.0,543.0 1142.0,545.0 1141.8,542.8" fill="#76cdf0" />
<polygon points="1198.4,490.0 1203.0,488.0 1203.7,497.0 1200.0,499.0" fill="#76cdf0" />
<polygon points="1190.0,398.0 1195.0,397.5 1194.0,405.0 1191.0,406.0" fill="#76cdf0" />
<polygon points="1378.8,407.0 1384.0,404.0 1391.6,419.9 1402.3,428.4 1400.0,440.2 1389.5,432.7 1379.8,422.0" fill="#76cdf0" />
<polygon points="1407.0,452.0 1412.0,451.0 1413.0,460.0 1409.0,463.0" fill="#76cdf0" />
<g fill="none" stroke="#bcbfd6" stroke-width="1.6">
<polyline points="1427.8,292.2 1781,292.2"/>
<polyline points="1427.8,292.2 1427.8,429.8"/>
<polyline points="1604,236 1604,429.8"/>
<polyline points="1604,258.7 1781,258.7"/>
<polyline points="1604,362.4 1743.4,362.4 1755.5,370.2 1759.9,366.4 1774,367 1781,372"/>
<polyline points="1352,396.2 1427.8,396.2"/>
<polyline points="1427.8,429.8 1654,429.8"/>
<polyline points="1654,429.8 1654,559.3"/>
<polyline points="1654,462.4 1781,462.4"/>
<polyline points="1478.3,429.8 1478.3,690"/>
<polyline points="1352,559.3 1781,559.3"/>
<polyline points="1629.7,559.3 1629.7,690"/>
<polyline points="1629.7,575.4 1705.6,575.4 1705.6,634 1712,640 1725,643 1735,648 1750,648 1760,650 1770,652 1781,655"/>
<polyline points="1352,396 1352,587.8 1333,588 1337.4,618.6 1349.3,642.3 1339.8,680.3 1342,690"/>
<polyline points="1220.8,509.6 1337.4,621"/>
<polyline points="1344,236 1343,262 1358,270 1366.5,290 1378,306 1382.6,313.5 1396,307.6 1416.5,306 1419,301 1427.5,306 1427.8,292.2"/>
<polyline points="1278.6,236 1280,256"/>
<polyline points="1093.6,395.8 1278,395.8"/>
<polyline points="1262,668 1342,680"/>
</g>
<polyline points="1691.4,236 1691,248 1692,258 1697,265 1694,272 1699,280 1700,288 1695,298 1690,307 1700.7,317 1712,322 1721.5,329 1720.4,339 1724.8,348.9 1733,354 1741.2,359.8" fill="none" stroke="#6cc8ef" stroke-width="1.8"/>
<polyline points="1412,561 1420,556 1428,553 1437,545 1444,533" fill="none" stroke="#6cc8ef" stroke-width="2"/>
<circle cx="1126.8" cy="294.8" r="6.1" fill="#fff" opacity="0.75"/><circle cx="1126.8" cy="294.8" r="3.9" fill="#000"/>
<circle cx="1098" cy="436.5" r="6.1" fill="#fff" opacity="0.75"/><circle cx="1098" cy="436.5" r="3.9" fill="#000"/>
<circle cx="1434.9" cy="345.9" r="6.1" fill="#fff" opacity="0.75"/><circle cx="1434.9" cy="345.9" r="3.9" fill="#000"/>
<circle cx="1406.5" cy="438" r="6.1" fill="#fff" opacity="0.75"/><circle cx="1406.5" cy="438" r="3.9" fill="#000"/>
<circle cx="1584.6" cy="425.7" r="6.1" fill="#fff" opacity="0.75"/><circle cx="1584.6" cy="425.7" r="3.9" fill="#000"/>
<circle cx="1364" cy="555.7" r="6.1" fill="#fff" opacity="0.75"/><circle cx="1364" cy="555.7" r="3.9" fill="#000"/>
<circle cx="1246.6" cy="650.3" r="6.1" fill="#fff" opacity="0.75"/><circle cx="1246.6" cy="650.3" r="3.9" fill="#000"/>
<circle cx="1660" cy="615" r="6.1" fill="#fff" opacity="0.75"/><circle cx="1660" cy="615" r="3.9" fill="#000"/>
<circle cx="1208" cy="478.6" r="6.1" fill="#fff" opacity="0.75"/><circle cx="1208" cy="478.6" r="3.9" fill="#000"/>
<text x="1093.0" y="275.2" font-size="24" fill="#111" textLength="67.0" lengthAdjust="spacingAndGlyphs" stroke="#fff" stroke-width="4" stroke-linejoin="round" paint-order="stroke" stroke-opacity="0.8">Salem</text>
<text x="1061.0" y="417.3" font-size="24" fill="#111" textLength="74.5" lengthAdjust="spacingAndGlyphs" stroke="#fff" stroke-width="4" stroke-linejoin="round" paint-order="stroke" stroke-opacity="0.8">Eureka</text>
<text x="1181.0" y="458.7" font-size="24" fill="#111" textLength="54.0" lengthAdjust="spacingAndGlyphs" stroke="#fff" stroke-width="4" stroke-linejoin="round" paint-order="stroke" stroke-opacity="0.8">Reno</text>
<text x="1333.5" y="418.8" font-size="24" fill="#111" textLength="147.5" lengthAdjust="spacingAndGlyphs" stroke="#fff" stroke-width="4" stroke-linejoin="round" paint-order="stroke" stroke-opacity="0.8">Salt Lake City</text>
<text x="1532.0" y="406.5" font-size="24" fill="#111" textLength="106.5" lengthAdjust="spacingAndGlyphs" stroke="#fff" stroke-width="4" stroke-linejoin="round" paint-order="stroke" stroke-opacity="0.8">Cheyenne</text>
<text x="1393.0" y="326.8" font-size="24" fill="#111" textLength="85.0" lengthAdjust="spacingAndGlyphs" stroke="#fff" stroke-width="4" stroke-linejoin="round" paint-order="stroke" stroke-opacity="0.8">Jackson</text>
<text x="1307.5" y="536.5" font-size="24" fill="#111" textLength="113.5" lengthAdjust="spacingAndGlyphs" stroke="#fff" stroke-width="4" stroke-linejoin="round" paint-order="stroke" stroke-opacity="0.8">St. George</text>
<text x="1614.5" y="595.4" font-size="24" fill="#111" textLength="92.0" lengthAdjust="spacingAndGlyphs" stroke="#fff" stroke-width="4" stroke-linejoin="round" paint-order="stroke" stroke-opacity="0.8">Amarillo</text>
<text x="1183.0" y="631.3" font-size="24" fill="#111" textLength="128.0" lengthAdjust="spacingAndGlyphs" stroke="#fff" stroke-width="4" stroke-linejoin="round" paint-order="stroke" stroke-opacity="0.8">Los Angeles</text>
<text x="1270.0" y="672.7" font-size="24" fill="#111" textLength="90.0" lengthAdjust="spacingAndGlyphs" stroke="#fff" stroke-width="4" stroke-linejoin="round" paint-order="stroke" stroke-opacity="0.8">Mexicali</text>
<text x="1753.7" y="668.9" font-size="24" fill="#111" textLength="30.0" lengthAdjust="spacingAndGlyphs" stroke="#fff" stroke-width="4" stroke-linejoin="round" paint-order="stroke" stroke-opacity="0.8">Da</text>
<text x="1467.0" y="701.0" font-size="24" fill="#111" textLength="153.0" lengthAdjust="spacingAndGlyphs" stroke="#fff" stroke-width="4" stroke-linejoin="round" paint-order="stroke" stroke-opacity="0.8">Ciudad Juárez</text>
<text x="1688.0" y="442.2" font-size="31" fill="#111" textLength="100.0" lengthAdjust="spacingAndGlyphs" stroke="#fff" stroke-width="4" stroke-linejoin="round" paint-order="stroke" stroke-opacity="0.8">United</text>
<text x="1688.0" y="480.7" font-size="31" fill="#111" textLength="95.0" lengthAdjust="spacingAndGlyphs" stroke="#fff" stroke-width="4" stroke-linejoin="round" paint-order="stroke" stroke-opacity="0.8">States</text>
<text x="1149.5" y="327.9" font-size="20" fill="#111" font-weight="bold" textLength="98.0" lengthAdjust="spacing" stroke="#fff" stroke-width="4" stroke-linejoin="round" paint-order="stroke" stroke-opacity="0.8">Oregon</text>
<text x="1310.0" y="326.0" font-size="20" fill="#111" font-weight="bold" textLength="62.5" lengthAdjust="spacing" stroke="#fff" stroke-width="4" stroke-linejoin="round" paint-order="stroke" stroke-opacity="0.8">Idaho</text>
<text x="1465.5" y="362.8" font-size="20" fill="#111" font-weight="bold" textLength="104.5" lengthAdjust="spacing" stroke="#fff" stroke-width="4" stroke-linejoin="round" paint-order="stroke" stroke-opacity="0.8">Wyoming</text>
<text x="1666.5" y="299.0" font-size="20" fill="#111" font-weight="bold" textLength="66.0" lengthAdjust="spacing" stroke="#fff" stroke-width="4" stroke-linejoin="round" paint-order="stroke" stroke-opacity="0.8">South</text>
<text x="1661.0" y="323.1" font-size="20" fill="#111" font-weight="bold" textLength="78.0" lengthAdjust="spacing" stroke="#fff" stroke-width="4" stroke-linejoin="round" paint-order="stroke" stroke-opacity="0.8">Dakota</text>
<text x="1244.3" y="487.8" font-size="20" fill="#111" font-weight="bold" textLength="82.5" lengthAdjust="spacing" stroke="#fff" stroke-width="4" stroke-linejoin="round" paint-order="stroke" stroke-opacity="0.8">Nevada</text>
<text x="1385.0" y="488.2" font-size="20" fill="#111" font-weight="bold" textLength="51.5" lengthAdjust="spacing" stroke="#fff" stroke-width="4" stroke-linejoin="round" paint-order="stroke" stroke-opacity="0.8">Utah</text>
<text x="1518.0" y="496.5" font-size="20" fill="#111" font-weight="bold" textLength="101.5" lengthAdjust="spacing" stroke="#fff" stroke-width="4" stroke-linejoin="round" paint-order="stroke" stroke-opacity="0.8">Colorado</text>
<text x="1152.5" y="551.2" font-size="20" fill="#111" font-weight="bold" textLength="115.5" lengthAdjust="spacing" stroke="#fff" stroke-width="4" stroke-linejoin="round" paint-order="stroke" stroke-opacity="0.8">California</text>
<text x="1374.0" y="637.6" font-size="20" fill="#111" font-weight="bold" textLength="87.0" lengthAdjust="spacing" stroke="#fff" stroke-width="4" stroke-linejoin="round" paint-order="stroke" stroke-opacity="0.8">Arizona</text>
<text x="1532.0" y="625.7" font-size="20" fill="#111" font-weight="bold" textLength="47.0" lengthAdjust="spacing" stroke="#fff" stroke-width="4" stroke-linejoin="round" paint-order="stroke" stroke-opacity="0.8">New</text>
<text x="1516.5" y="649.4" font-size="20" fill="#111" font-weight="bold" textLength="79.5" lengthAdjust="spacing" stroke="#fff" stroke-width="4" stroke-linejoin="round" paint-order="stroke" stroke-opacity="0.8">Mexico</text>
<text x="1713.4" y="607.2" font-size="20" fill="#111" font-weight="bold" textLength="128.0" lengthAdjust="spacing" stroke="#fff" stroke-width="4" stroke-linejoin="round" paint-order="stroke" stroke-opacity="0.8">Oklahoma</text>
<polygon points="1165.5,267.2 1175.0,268.8 1187.9,264.8 1200.0,263.2 1229.5,256.0 1280.7,256.0 1291.0,269.0 1276.5,311.0 1280.7,321.5 1277.5,332.0 1277.5,396.0 1106.3,395.8 1108.0,389.4 1102.4,381.4 1108.0,373.4 1108.0,363.9 1112.7,359.0 1127.1,354.3 1134.3,344.7 1149.5,346.3 1154.3,334.3 1168.7,331.9 1174.3,314.3 1157.5,312.7 1159.9,284.0" fill="#af1c40" opacity="0.87" stroke="#555" stroke-width="1" stroke-opacity="0.6"/>
<polygon points="1203.3,396.8 1352.7,396.8 1352.7,506.4 1337.1,507.4 1306.2,491.4 1272.0,490.3 1242.1,492.5 1229.3,489.3 1227.2,501.0 1220.8,509.6 1203.3,490.3" fill="#e04651" opacity="0.87" stroke="#555" stroke-width="1" stroke-opacity="0.6"/>
<polygon points="1262.6,597.5 1312.8,597.0 1329.1,612.7 1328.0,626.9 1325.8,634.5 1327.0,636.7 1324.8,649.8 1271.3,650.9 1268.0,645.5 1256.0,636.7 1255.0,625.8 1246.2,617.1 1260.4,608.4" fill="#d72f48" opacity="0.87" stroke="#555" stroke-width="1" stroke-opacity="0.6"/>
<polygon points="1581.0,491.7 1598.3,491.7 1598.3,511.0 1581.0,511.0" fill="#f07a6a" opacity="0.87" stroke="#555" stroke-width="1" stroke-opacity="0.6"/>
<polygon points="1584.6,446.0 1593.5,447.5 1591.0,466.0 1582.0,470.0 1580.0,460.0" fill="#4773a6" opacity="0.87" stroke="#555" stroke-width="1" stroke-opacity="0.6"/>
<polygon points="1403.9,653.0 1419.3,651.8 1421.6,661.3 1428.8,668.4 1401.5,668.9 1402.7,661.3" fill="#3e6891" opacity="0.87" stroke="#555" stroke-width="1" stroke-opacity="0.6"/>
<text x="1193.7" y="340.0" font-size="33" fill="#000" font-weight="bold" textLength="64.3" lengthAdjust="spacingAndGlyphs">68%</text>
<text x="1245.3" y="468.0" font-size="33" fill="#000" font-weight="bold" textLength="64.7" lengthAdjust="spacingAndGlyphs">60%</text>
<text x="1553.0" y="471.8" font-size="33" fill="#000" font-weight="bold" textLength="65.3" lengthAdjust="spacingAndGlyphs">48%</text>
<text x="1555.7" y="513.0" font-size="33" fill="#000" font-weight="bold" textLength="64.0" lengthAdjust="spacingAndGlyphs">56%</text>
<rect x="926.1" y="654.2" width="355.0" height="29.4" fill="#f9f9f9" opacity="0.97"/>
<text x="933.5" y="677.1" font-size="20.5" fill="#5e5e5e" textLength="338.2" lengthAdjust="spacingAndGlyphs">© 2025 Mapbox © OpenStreetMap</text>
</g>
<text x="42.0" y="764.0" font-size="41" fill="#333" font-weight="bold" textLength="655.0" lengthAdjust="spacingAndGlyphs">GOP Performance Trend by District</text>
<rect x="40.0" y="767.5" width="658.0" height="2.0" fill="#222" />
<line x1="28" y1="782" x2="891" y2="782" stroke="#d4d4d4" stroke-width="1.5" />
<line x1="148.5" y1="782" x2="148.5" y2="1172" stroke="#d0d0d0" stroke-width="1.5" />
<line x1="135" y1="822.0" x2="891" y2="822.0" stroke="#ececec" stroke-width="1.6" />
<text x="133.0" y="830.5" font-size="24" fill="#666" text-anchor="end" textLength="28.0" lengthAdjust="spacingAndGlyphs">90</text>
<line x1="135" y1="861.0" x2="891" y2="861.0" stroke="#ececec" stroke-width="1.6" />
<text x="133.0" y="869.5" font-size="24" fill="#666" text-anchor="end" textLength="28.0" lengthAdjust="spacingAndGlyphs">80</text>
<line x1="135" y1="900.0" x2="891" y2="900.0" stroke="#ececec" stroke-width="1.6" />
<text x="133.0" y="908.5" font-size="24" fill="#666" text-anchor="end" textLength="28.0" lengthAdjust="spacingAndGlyphs">70</text>
<line x1="135" y1="939.0" x2="891" y2="939.0" stroke="#ececec" stroke-width="1.6" />
<text x="133.0" y="947.5" font-size="24" fill="#666" text-anchor="end" textLength="28.0" lengthAdjust="spacingAndGlyphs">60</text>
<line x1="135" y1="978.0" x2="891" y2="978.0" stroke="#ececec" stroke-width="1.6" />
<text x="133.0" y="986.5" font-size="24" fill="#666" text-anchor="end" textLength="28.0" lengthAdjust="spacingAndGlyphs">50</text>
<line x1="135" y1="1017.0" x2="891" y2="1017.0" stroke="#ececec" stroke-width="1.6" />
<text x="133.0" y="1025.5" font-size="24" fill="#666" text-anchor="end" textLength="28.0" lengthAdjust="spacingAndGlyphs">40</text>
<line x1="135" y1="1056.0" x2="891" y2="1056.0" stroke="#ececec" stroke-width="1.6" />
<text x="133.0" y="1064.5" font-size="24" fill="#666" text-anchor="end" textLength="28.0" lengthAdjust="spacingAndGlyphs">30</text>
<line x1="135" y1="1095.0" x2="891" y2="1095.0" stroke="#ececec" stroke-width="1.6" />
<text x="133.0" y="1103.5" font-size="24" fill="#666" text-anchor="end" textLength="28.0" lengthAdjust="spacingAndGlyphs">20</text>
<line x1="135" y1="1134.0" x2="891" y2="1134.0" stroke="#ececec" stroke-width="1.6" />
<text x="133.0" y="1142.5" font-size="24" fill="#666" text-anchor="end" textLength="28.0" lengthAdjust="spacingAndGlyphs">10</text>
<line x1="148.5" y1="1173" x2="148.5" y2="1182" stroke="#e4e4e4" stroke-width="1.5" />
<line x1="297.0" y1="782" x2="297.0" y2="1172" stroke="#ececec" stroke-width="1.6" />
<line x1="297.0" y1="1173" x2="297.0" y2="1182" stroke="#e4e4e4" stroke-width="1.5" />
<line x1="445.5" y1="782" x2="445.5" y2="1172" stroke="#ececec" stroke-width="1.6" />
<line x1="445.5" y1="1173" x2="445.5" y2="1182" stroke="#e4e4e4" stroke-width="1.5" />
<line x1="594.0" y1="782" x2="594.0" y2="1172" stroke="#ececec" stroke-width="1.6" />
<line x1="594.0" y1="1173" x2="594.0" y2="1182" stroke="#e4e4e4" stroke-width="1.5" />
<line x1="742.5" y1="782" x2="742.5" y2="1172" stroke="#ececec" stroke-width="1.6" />
<line x1="742.5" y1="1173" x2="742.5" y2="1182" stroke="#e4e4e4" stroke-width="1.5" />
<line x1="891.0" y1="782" x2="891.0" y2="1172" stroke="#ececec" stroke-width="1.6" />
<line x1="891.0" y1="1173" x2="891.0" y2="1182" stroke="#e4e4e4" stroke-width="1.5" />
<line x1="28" y1="1172" x2="891" y2="1172" stroke="#c8c8c8" stroke-width="2" />
<line x1="891" y1="782" x2="891" y2="1172" stroke="#d0d0d0" stroke-width="1.5" />
<text x="180.0" y="1214.0" font-size="24" fill="#666" text-anchor="middle" textLength="56.0" lengthAdjust="spacingAndGlyphs">2016</text>
<text x="296.0" y="1214.0" font-size="24" fill="#666" text-anchor="middle" textLength="56.0" lengthAdjust="spacingAndGlyphs">2018</text>
<text x="446.0" y="1214.0" font-size="24" fill="#666" text-anchor="middle" textLength="56.0" lengthAdjust="spacingAndGlyphs">2020</text>
<text x="594.0" y="1214.0" font-size="24" fill="#666" text-anchor="middle" textLength="56.0" lengthAdjust="spacingAndGlyphs">2022</text>
<text x="744.0" y="1214.0" font-size="24" fill="#666" text-anchor="middle" textLength="56.0" lengthAdjust="spacingAndGlyphs">2024</text>
<text x="860.0" y="1214.0" font-size="24" fill="#666" text-anchor="middle" textLength="56.0" lengthAdjust="spacingAndGlyphs">2026</text>
<text x="520.0" y="1264.0" font-size="23" fill="#333" text-anchor="middle" textLength="51.0" lengthAdjust="spacingAndGlyphs">Year</text>
<text transform="translate(70.0,975.0) rotate(-90)" x="0" y="0" font-size="23" fill="#333" text-anchor="middle" textLength="150.0" lengthAdjust="spacingAndGlyphs">GOP Vote (%)</text>
<line x1="594" y1="782" x2="594" y2="1172" stroke="#7a7a7a" stroke-width="4" />
<text x="455.0" y="994.0" font-size="22" fill="#222" textLength="50.0" lengthAdjust="spacingAndGlyphs">AZ-1</text>
<polyline points="594.0,909.6 744.0,922.6" fill="none" stroke="#9571c5" stroke-width="5.2" stroke-linejoin="round" opacity="0.3"/>
<polyline points="594.0,934.8 744.0,937.4" fill="none" stroke="#f8850f" stroke-width="5.2" stroke-linejoin="round" opacity="0.3"/>
<polyline points="594.0,954.3 744.0,958.0" fill="none" stroke="#f276b0" stroke-width="5.2" stroke-linejoin="round" opacity="0.3"/>
<polyline points="594.0,939.9 744.0,949.0" fill="none" stroke="#bc6ac3" stroke-width="5.2" stroke-linejoin="round" opacity="0.3"/>
<polyline points="594.0,978.0 744.0,970.5" fill="none" stroke="#1ba3c6" stroke-width="5.2" stroke-linejoin="round" opacity="0.3"/>
<polyline points="594.0,986.8 744.0,982.0" fill="none" stroke="#df6cbb" stroke-width="5.2" stroke-linejoin="round" opacity="0.3"/>
<polyline points="148.0,945.2 296.0,947.8 446.0,952.9 594.0,939.9" fill="none" stroke="#bc6ac3" stroke-width="5.2" stroke-linejoin="round" />
<polyline points="148.0,930.6 296.0,950.7 446.0,949.0 594.0,954.3" fill="none" stroke="#f276b0" stroke-width="5.2" stroke-linejoin="round" />
<polyline points="148.0,1002.7 296.0,993.3 446.0,983.9 594.0,978.0" fill="none" stroke="#1ba3c6" stroke-width="5.2" stroke-linejoin="round" />
<polyline points="148.0,903.2 296.0,924.0 446.0,929.8 594.0,934.8" fill="none" stroke="#f8850f" stroke-width="5.2" stroke-linejoin="round" />
<polyline points="148.0,893.0 296.0,954.0 446.0,940.0 594.0,909.6" fill="none" stroke="#9571c5" stroke-width="5.2" stroke-linejoin="round" />
<polyline points="148.5,1003.0 891.0,975.0" fill="none" stroke="#df6cbb" stroke-width="4.6" stroke-linejoin="round" stroke-dasharray="11 7"/>
<polyline points="148.5,946.0 891.0,953.4" fill="none" stroke="#bc6ac3" stroke-width="4.6" stroke-linejoin="round" stroke-dasharray="11 7"/>
<polyline points="148.5,935.5 891.0,966.0" fill="none" stroke="#f276b0" stroke-width="4.6" stroke-linejoin="round" stroke-dasharray="11 7"/>
<polyline points="148.5,1001.0 891.0,960.3" fill="none" stroke="#1ba3c6" stroke-width="4.6" stroke-linejoin="round" stroke-dasharray="11 7"/>
<polyline points="148.5,909.0 891.0,950.0" fill="none" stroke="#f8850f" stroke-width="4.6" stroke-linejoin="round" stroke-dasharray="11 7"/>
<polyline points="148.5,919.6 891.0,927.9" fill="none" stroke="#9571c5" stroke-width="4.6" stroke-linejoin="round" stroke-dasharray="11 7"/>
<circle cx="594" cy="986.8" r="6" fill="#df6cbb"/>
<line x1="148.5" y1="978" x2="891" y2="978" stroke="#000" stroke-width="4" />
<text x="603.0" y="918.0" font-size="22" fill="#111" textLength="54.0" lengthAdjust="spacingAndGlyphs">OR-2</text>
<text x="603.0" y="946.0" font-size="22" fill="#111" textLength="64.0" lengthAdjust="spacingAndGlyphs">CA-23</text>
<text x="603.0" y="951.0" font-size="22" fill="#111" textLength="54.0" lengthAdjust="spacingAndGlyphs">NV-2</text>
<text x="603.0" y="964.0" font-size="22" fill="#111" textLength="54.0" lengthAdjust="spacingAndGlyphs">CO-5</text>
<text x="569.0" y="1022.0" font-size="22" fill="#111" textLength="52.0" lengthAdjust="spacingAndGlyphs">CO-8</text>
<text x="927.0" y="773.0" font-size="41" fill="#333" font-weight="bold" textLength="810.0" lengthAdjust="spacingAndGlyphs">Race Competitiveness &amp; Investment Matrix</text>
<rect x="926.0" y="777.0" width="812.0" height="2.0" fill="#222" />
<text x="927.0" y="829.0" font-size="41" fill="#333" font-weight="bold" textLength="247.0" lengthAdjust="spacingAndGlyphs">2016 to 2022</text>
<rect x="926.0" y="833.0" width="249.0" height="2.0" fill="#222" />
<rect x="1054.6" y="858.3" width="194.9" height="314.5" fill="#dfece9" />
<rect x="1249.5" y="858.3" width="534.5" height="314.5" fill="#eeeae7" />
<line x1="1138.7" y1="858.3" x2="1138.7" y2="1172.8" stroke="#f6f6f6" stroke-width="1.6" />
<line x1="1360.3" y1="858.3" x2="1360.3" y2="1172.8" stroke="#f6f6f6" stroke-width="1.6" />
<line x1="1471.1" y1="858.3" x2="1471.1" y2="1172.8" stroke="#f6f6f6" stroke-width="1.6" />
<line x1="1581.9" y1="858.3" x2="1581.9" y2="1172.8" stroke="#f6f6f6" stroke-width="1.6" />
<line x1="1692.7" y1="858.3" x2="1692.7" y2="1172.8" stroke="#f6f6f6" stroke-width="1.6" />
<line x1="1054.6" y1="1027.1" x2="1784" y2="1027.1" stroke="#f6f6f6" stroke-width="1.6" />
<line x1="1040" y1="1027.1" x2="1054.6" y2="1027.1" stroke="#ededed" stroke-width="1.6" />
<line x1="1054.6" y1="880.5999999999999" x2="1784" y2="880.5999999999999" stroke="#f6f6f6" stroke-width="1.6" />
<line x1="1040" y1="880.5999999999999" x2="1054.6" y2="880.5999999999999" stroke="#ededed" stroke-width="1.6" />
<line x1="1040" y1="1173.8" x2="1784" y2="1173.8" stroke="#efefef" stroke-width="1.8" />
<line x1="1138.7" y1="1175" x2="1138.7" y2="1184" stroke="#ececec" stroke-width="1.6" />
<line x1="1249.5" y1="1175" x2="1249.5" y2="1184" stroke="#ececec" stroke-width="1.6" />
<line x1="1360.3" y1="1175" x2="1360.3" y2="1184" stroke="#ececec" stroke-width="1.6" />
<line x1="1471.1" y1="1175" x2="1471.1" y2="1184" stroke="#ececec" stroke-width="1.6" />
<line x1="1581.9" y1="1175" x2="1581.9" y2="1184" stroke="#ececec" stroke-width="1.6" />
<line x1="1692.7" y1="1175" x2="1692.7" y2="1184" stroke="#ececec" stroke-width="1.6" />
<text x="1037.0" y="893.0" font-size="24" fill="#666" text-anchor="end" textLength="55.0" lengthAdjust="spacingAndGlyphs">200K</text>
<text x="1037.0" y="1040.0" font-size="24" fill="#666" text-anchor="end" textLength="57.0" lengthAdjust="spacingAndGlyphs">100K</text>
<text x="1037.0" y="1168.0" font-size="24" fill="#666" text-anchor="end" textLength="29.0" lengthAdjust="spacingAndGlyphs">0K</text>
<text x="1138.7" y="1216.5" font-size="24" fill="#666" text-anchor="middle" textLength="27.0" lengthAdjust="spacingAndGlyphs">45</text>
<text x="1249.5" y="1216.5" font-size="24" fill="#666" text-anchor="middle" textLength="27.0" lengthAdjust="spacingAndGlyphs">50</text>
<text x="1360.3" y="1216.5" font-size="24" fill="#666" text-anchor="middle" textLength="27.0" lengthAdjust="spacingAndGlyphs">55</text>
<text x="1471.1" y="1216.5" font-size="24" fill="#666" text-anchor="middle" textLength="27.0" lengthAdjust="spacingAndGlyphs">60</text>
<text x="1581.9" y="1216.5" font-size="24" fill="#666" text-anchor="middle" textLength="27.0" lengthAdjust="spacingAndGlyphs">65</text>
<text x="1692.7" y="1216.5" font-size="24" fill="#666" text-anchor="middle" textLength="27.0" lengthAdjust="spacingAndGlyphs">70</text>
<text x="1419.0" y="1266.0" font-size="23" fill="#333" text-anchor="middle" textLength="204.0" lengthAdjust="spacingAndGlyphs">Republican Vote%</text>
<text transform="translate(961.0,1014.0) rotate(-90)" x="0" y="0" font-size="23" fill="#333" text-anchor="middle" textLength="178.0" lengthAdjust="spacingAndGlyphs">Democrat Votes</text>
<circle cx="1215.5" cy="898" r="25" fill="#1ba3c6"/>
<circle cx="1103" cy="966" r="18.3" fill="#1ba3c6"/>
<circle cx="1164.6" cy="962.6" r="22.3" fill="#1ba3c6"/>
<circle cx="1200" cy="1006" r="25" fill="#dd6cb8"/>
<circle cx="1391" cy="960.9" r="28.9" fill="#9a73c7"/>
<circle cx="1400.9" cy="945.7" r="13.7" fill="#c06cc6"/>
<circle cx="1419.9" cy="935.8" r="9.9" fill="#f07cb4"/>
<circle cx="1470.1" cy="925.9" r="12.9" fill="#9a73c7"/>
<circle cx="1406.2" cy="987.5" r="10.7" fill="#f07cb4"/>
<circle cx="1458" cy="997" r="9" fill="#c06cc6"/>
<circle cx="1432.8" cy="999.7" r="13.7" fill="#c06cc6"/>
<circle cx="1385.7" cy="1008.8" r="8" fill="#f07cb4"/>
<circle cx="1520.4" cy="1003.5" r="60.9" fill="#f7841a"/>
<circle cx="1554.6" cy="1064.4" r="31.6" fill="#f7841a"/>
<circle cx="1493.7" cy="1078" r="16" fill="#f7841a"/>
<circle cx="1676" cy="1064" r="31.6" fill="#f7841a"/>
<circle cx="1732.5" cy="1016.5" r="20.7" fill="#9a73c7"/>
<circle cx="1639" cy="1026" r="12.8" fill="#9a73c7"/>
<line x1="1249.5" y1="858.3" x2="1249.5" y2="1172.8" stroke="#222" stroke-width="2" />
<line x1="1054.6" y1="1056" x2="1784" y2="1056" stroke="#333" stroke-width="2" />
<text x="1185.4" y="907.8" font-size="24" fill="#111" textLength="55.0" lengthAdjust="spacingAndGlyphs">2020</text>
<text x="1075.0" y="976.3" font-size="24" fill="#111" textLength="55.0" lengthAdjust="spacingAndGlyphs">2016</text>
<text x="1135.6" y="974.0" font-size="24" fill="#111" textLength="55.0" lengthAdjust="spacingAndGlyphs">2018</text>
<text x="1171.6" y="1016.0" font-size="24" fill="#111" textLength="55.0" lengthAdjust="spacingAndGlyphs">2022</text>
<text x="1442.0" y="935.8" font-size="24" fill="#111" textLength="55.0" lengthAdjust="spacingAndGlyphs">2020</text>
<text x="1389.5" y="945.7" font-size="24" fill="#111" textLength="55.0" lengthAdjust="spacingAndGlyphs">2020</text>
<text x="1362.8" y="954.8" font-size="24" fill="#111" textLength="55.0" lengthAdjust="spacingAndGlyphs">2020</text>
<text x="1361.3" y="969.0" font-size="24" fill="#111" textLength="55.0" lengthAdjust="spacingAndGlyphs">2018</text>
<text x="1377.3" y="997.4" font-size="24" fill="#111" textLength="55.0" lengthAdjust="spacingAndGlyphs">2018</text>
<text x="1405.4" y="1013.4" font-size="24" fill="#111" textLength="55.0" lengthAdjust="spacingAndGlyphs">2016</text>
<text x="1420.0" y="1005.0" font-size="24" fill="#111" textLength="55.0" lengthAdjust="spacingAndGlyphs">2018</text>
<text x="1355.0" y="1019.5" font-size="24" fill="#111" textLength="55.0" lengthAdjust="spacingAndGlyphs">2022</text>
<text x="1449.6" y="1011.0" font-size="24" fill="#111" textLength="55.0" lengthAdjust="spacingAndGlyphs">2022</text>
<text x="1490.0" y="1013.0" font-size="24" fill="#111" textLength="55.0" lengthAdjust="spacingAndGlyphs">2020</text>
<text x="1495.0" y="1019.5" font-size="24" fill="#111" textLength="55.0" lengthAdjust="spacingAndGlyphs">2016</text>
<text x="1525.7" y="1073.5" font-size="24" fill="#111" textLength="55.0" lengthAdjust="spacingAndGlyphs">2018</text>
<text x="1465.6" y="1087.0" font-size="24" fill="#111" textLength="55.0" lengthAdjust="spacingAndGlyphs">2022</text>
<text x="1702.8" y="1027.5" font-size="24" fill="#111" textLength="55.0" lengthAdjust="spacingAndGlyphs">2016</text>
<text x="1609.0" y="1037.0" font-size="24" fill="#111" textLength="55.0" lengthAdjust="spacingAndGlyphs">2022</text>
<text x="1647.3" y="1073.0" font-size="24" fill="#111" textLength="55.0" lengthAdjust="spacingAndGlyphs">2016</text>
<text x="1805.5" y="226.0" font-size="23" fill="#333" textLength="178.0" lengthAdjust="spacingAndGlyphs">Party Win Score</text>
<defs><linearGradient id="pws" x1="0" x2="1" y1="0" y2="0">
<stop offset="0" stop-color="#416fa3"/>
<stop offset="0.02" stop-color="#6b8fbc"/>
<stop offset="0.04" stop-color="#4672a6"/>
<stop offset="0.25" stop-color="#6a9bc6"/>
<stop offset="0.45" stop-color="#a3cbe6"/>
<stop offset="0.5" stop-color="#e6dedb"/>
<stop offset="0.56" stop-color="#fbab98"/>
<stop offset="0.72" stop-color="#f07a68"/>
<stop offset="0.82" stop-color="#e35258"/>
<stop offset="1" stop-color="#a8123a"/>
</linearGradient></defs>
<rect x="1869.0" y="237.0" width="148.0" height="38.0" fill="#aaa596" />
<rect x="1871.0" y="239.0" width="144.0" height="34.0" fill="url(#pws)" />
<line x1="1937.8" y1="270" x2="1937.8" y2="277.7" stroke="#000" stroke-width="2.2" />
<text x="1813.0" y="266.0" font-size="25" fill="#333" textLength="48.0" lengthAdjust="spacingAndGlyphs">35%</text>
<text x="2026.3" y="266.0" font-size="25" fill="#333" textLength="49.0" lengthAdjust="spacingAndGlyphs">65%</text>
<text x="1804.6" y="355.0" font-size="23" fill="#333" textLength="183.0" lengthAdjust="spacingAndGlyphs">District Selector</text>
<defs><clipPath id="listclip"><rect x="1795" y="360" width="300" height="392"/></clipPath></defs>
<g clip-path="url(#listclip)">
<text x="1847.0" y="392.0" font-size="24" fill="#333" textLength="50.0" lengthAdjust="spacingAndGlyphs">AZ-1</text>
<line x1="1804.5" y1="367.6" x2="1841" y2="367.6" stroke="#2a2a2a" stroke-width="2" />
<text x="1847.0" y="428.0" font-size="24" fill="#333" textLength="50.0" lengthAdjust="spacingAndGlyphs">AZ-2</text>
<line x1="1804.5" y1="403.6" x2="1841" y2="403.6" stroke="#2a2a2a" stroke-width="2" />
<text x="1847.0" y="464.0" font-size="24" fill="#333" textLength="50.0" lengthAdjust="spacingAndGlyphs">AZ-5</text>
<line x1="1804.5" y1="439.6" x2="1841" y2="439.6" stroke="#2a2a2a" stroke-width="2" />
<text x="1847.0" y="500.0" font-size="24" fill="#333" textLength="50.0" lengthAdjust="spacingAndGlyphs">AZ-6</text>
<line x1="1804.5" y1="475.6" x2="1841" y2="475.6" stroke="#2a2a2a" stroke-width="2" />
<text x="1847.0" y="536.0" font-size="24" fill="#333" textLength="50.0" lengthAdjust="spacingAndGlyphs">AZ-8</text>
<line x1="1804.5" y1="511.6" x2="1841" y2="511.6" stroke="#2a2a2a" stroke-width="2" />
<text x="1847.0" y="572.0" font-size="24" fill="#333" textLength="50.0" lengthAdjust="spacingAndGlyphs">AZ-9</text>
<line x1="1804.5" y1="547.6" x2="1841" y2="547.6" stroke="#2a2a2a" stroke-width="2" />
<text x="1847.0" y="608.0" font-size="24" fill="#333" textLength="50.0" lengthAdjust="spacingAndGlyphs">CA-1</text>
<line x1="1804.5" y1="583.6" x2="1841" y2="583.6" stroke="#2a2a2a" stroke-width="2" />
<text x="1847.0" y="644.0" font-size="24" fill="#333" textLength="50.0" lengthAdjust="spacingAndGlyphs">CA-3</text>
<line x1="1804.5" y1="619.6" x2="1841" y2="619.6" stroke="#2a2a2a" stroke-width="2" />
<text x="1847.0" y="680.0" font-size="24" fill="#333" textLength="50.0" lengthAdjust="spacingAndGlyphs">CA-5</text>
<line x1="1804.5" y1="655.6" x2="1841" y2="655.6" stroke="#2a2a2a" stroke-width="2" />
<text x="1847.0" y="716.0" font-size="24" fill="#333" textLength="62.0" lengthAdjust="spacingAndGlyphs">CA-20</text>
<line x1="1804.5" y1="691.6" x2="1841" y2="691.6" stroke="#2a2a2a" stroke-width="2" />
<text x="1847.0" y="752.0" font-size="24" fill="#333" textLength="62.0" lengthAdjust="spacingAndGlyphs">CA-22</text>
<line x1="1804.5" y1="727.6" x2="1841" y2="727.6" stroke="#2a2a2a" stroke-width="2" />
<line x1="1804.5" y1="366.6" x2="1804.5" y2="800" stroke="#2a2a2a" stroke-width="1.4" />
<line x1="1840" y1="366.6" x2="1840" y2="800" stroke="#2a2a2a" stroke-width="2.2" />
</g>
<polygon points="1814.6,387.2 1817.4,384.6 1820.2,387.2 1827.2,379.2 1830,381.8 1821.2,391.6 1819.2,391.6" fill="#333"/>
<text x="1804.6" y="798.5" font-size="23" fill="#333" textLength="144.0" lengthAdjust="spacingAndGlyphs">Select a Year</text>
<text x="1809.0" y="833.7" font-size="24" fill="#333" textLength="55.6" lengthAdjust="spacingAndGlyphs">2022</text>
<rect x="1809.8" y="912.0" width="28.1" height="28.0" fill="#69c0da" />
<text x="1848.8" y="936.8" font-size="24" fill="#333" textLength="49.0" lengthAdjust="spacingAndGlyphs">AZ-1</text>
<rect x="1809.8" y="952.0" width="28.1" height="28.0" fill="#f9a862" />
<text x="1848.8" y="976.8" font-size="24" fill="#333" textLength="64.0" lengthAdjust="spacingAndGlyphs">CA-23</text>
<rect x="1809.8" y="992.0" width="28.1" height="28.0" fill="#f7a6ca" />
<text x="1848.8" y="1016.8" font-size="24" fill="#333" textLength="49.0" lengthAdjust="spacingAndGlyphs">CO-5</text>
<rect x="1809.8" y="1032.0" width="28.1" height="28.0" fill="#e8a0d2" />
<text x="1848.8" y="1056.8" font-size="24" fill="#333" textLength="49.0" lengthAdjust="spacingAndGlyphs">CO-8</text>
<rect x="1809.8" y="1072.0" width="28.1" height="28.0" fill="#d39fd5" />
<text x="1848.8" y="1096.8" font-size="24" fill="#333" textLength="49.0" lengthAdjust="spacingAndGlyphs">NV-2</text>
<rect x="1809.8" y="1112.0" width="28.1" height="28.0" fill="#b9a0db" />
<text x="1848.8" y="1136.8" font-size="24" fill="#333" textLength="49.0" lengthAdjust="spacingAndGlyphs">OR-2</text>
<text x="1804.9" y="1192.0" font-size="23" fill="#333" font-weight="bold" textLength="105.6" lengthAdjust="spacingAndGlyphs" style="font-weight:600">Trendline</text>
<circle cx="1822" cy="1221" r="17.2" fill="#fff" stroke="#333" stroke-width="2"/>
<circle cx="1822" cy="1221" r="11.6" fill="#333"/>
<circle cx="1822" cy="1257.5" r="17.2" fill="#fff" stroke="#333" stroke-width="2"/>
<text x="1846.8" y="1227.8" font-size="24" fill="#333" textLength="50.0" lengthAdjust="spacingAndGlyphs">True</text>
<text x="1846.8" y="1264.0" font-size="24" fill="#333" textLength="57.0" lengthAdjust="spacingAndGlyphs">False</text>
<rect x="26" y="148" width="870" height="546" fill="none" stroke="#000" stroke-width="4"/>
<rect x="916" y="148" width="870" height="546" fill="none" stroke="#000" stroke-width="4"/>
<rect x="26" y="714" width="870" height="576" fill="none" stroke="#000" stroke-width="4"/>
<rect x="916" y="714" width="870" height="576" fill="none" stroke="#000" stroke-width="4"/>
</svg>
</body></html>
